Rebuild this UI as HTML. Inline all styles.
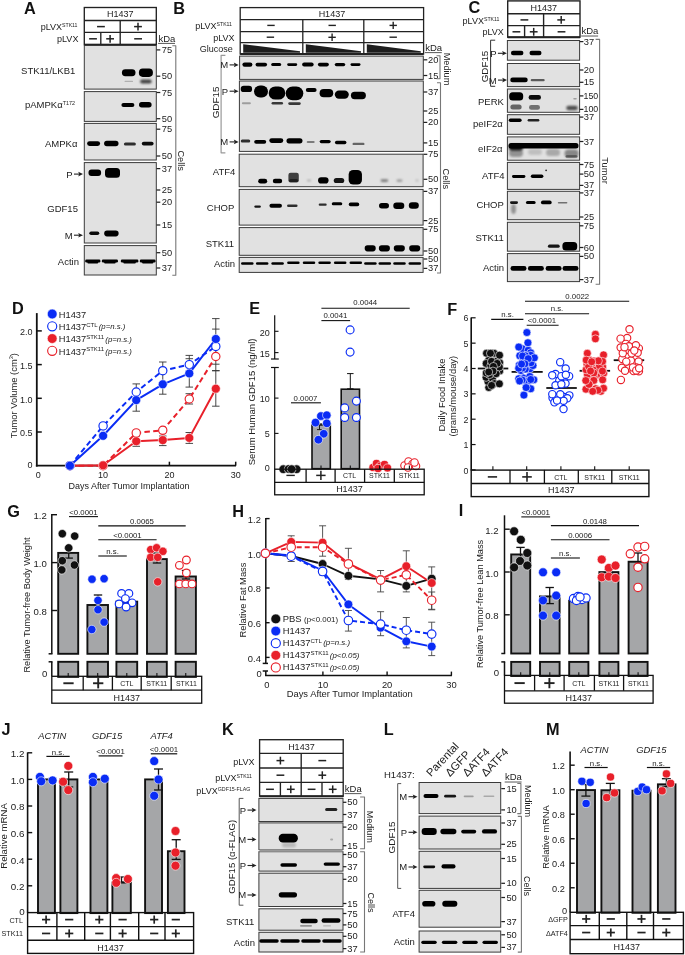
<!DOCTYPE html>
<html><head><meta charset="utf-8"><style>
html,body{margin:0;padding:0;background:#fff;}
svg{display:block;font-family:"Liberation Sans", sans-serif;will-change:transform;}
</style></head><body>
<svg width="685" height="955" viewBox="0 0 685 955">
<defs><filter id="b1" x="-50%" y="-100%" width="200%" height="300%"><feGaussianBlur stdDeviation="0.1"/></filter><filter id="b2" x="-50%" y="-100%" width="200%" height="300%"><feGaussianBlur stdDeviation="0.2"/></filter><filter id="b3" x="-50%" y="-100%" width="200%" height="300%"><feGaussianBlur stdDeviation="0.3"/></filter><filter id="b4" x="-50%" y="-100%" width="200%" height="300%"><feGaussianBlur stdDeviation="0.4"/></filter><filter id="b5" x="-50%" y="-100%" width="200%" height="300%"><feGaussianBlur stdDeviation="0.5"/></filter><filter id="b6" x="-50%" y="-100%" width="200%" height="300%"><feGaussianBlur stdDeviation="0.6"/></filter><filter id="b7" x="-50%" y="-100%" width="200%" height="300%"><feGaussianBlur stdDeviation="0.7"/></filter><filter id="b8" x="-50%" y="-100%" width="200%" height="300%"><feGaussianBlur stdDeviation="0.8"/></filter><filter id="b9" x="-50%" y="-100%" width="200%" height="300%"><feGaussianBlur stdDeviation="0.9"/></filter><filter id="b10" x="-50%" y="-100%" width="200%" height="300%"><feGaussianBlur stdDeviation="1.0"/></filter><filter id="b11" x="-50%" y="-100%" width="200%" height="300%"><feGaussianBlur stdDeviation="1.1"/></filter><filter id="b12" x="-50%" y="-100%" width="200%" height="300%"><feGaussianBlur stdDeviation="1.2"/></filter><filter id="b13" x="-50%" y="-100%" width="200%" height="300%"><feGaussianBlur stdDeviation="1.3"/></filter><filter id="b14" x="-50%" y="-100%" width="200%" height="300%"><feGaussianBlur stdDeviation="1.4"/></filter><filter id="b15" x="-50%" y="-100%" width="200%" height="300%"><feGaussianBlur stdDeviation="1.5"/></filter><filter id="b16" x="-50%" y="-100%" width="200%" height="300%"><feGaussianBlur stdDeviation="1.6"/></filter><filter id="b17" x="-50%" y="-100%" width="200%" height="300%"><feGaussianBlur stdDeviation="1.7"/></filter><filter id="b18" x="-50%" y="-100%" width="200%" height="300%"><feGaussianBlur stdDeviation="1.8"/></filter><filter id="b19" x="-50%" y="-100%" width="200%" height="300%"><feGaussianBlur stdDeviation="1.9"/></filter><filter id="b20" x="-50%" y="-100%" width="200%" height="300%"><feGaussianBlur stdDeviation="2.0"/></filter><filter id="b21" x="-50%" y="-100%" width="200%" height="300%"><feGaussianBlur stdDeviation="2.1"/></filter><filter id="b22" x="-50%" y="-100%" width="200%" height="300%"><feGaussianBlur stdDeviation="2.2"/></filter><filter id="b23" x="-50%" y="-100%" width="200%" height="300%"><feGaussianBlur stdDeviation="2.3"/></filter><filter id="b24" x="-50%" y="-100%" width="200%" height="300%"><feGaussianBlur stdDeviation="2.4"/></filter><filter id="b25" x="-50%" y="-100%" width="200%" height="300%"><feGaussianBlur stdDeviation="2.5"/></filter><filter id="b26" x="-50%" y="-100%" width="200%" height="300%"><feGaussianBlur stdDeviation="2.6"/></filter><filter id="b27" x="-50%" y="-100%" width="200%" height="300%"><feGaussianBlur stdDeviation="2.7"/></filter><filter id="b28" x="-50%" y="-100%" width="200%" height="300%"><feGaussianBlur stdDeviation="2.8"/></filter><filter id="b29" x="-50%" y="-100%" width="200%" height="300%"><feGaussianBlur stdDeviation="2.9"/></filter><filter id="b30" x="-50%" y="-100%" width="200%" height="300%"><feGaussianBlur stdDeviation="3.0"/></filter></defs>
<rect x="0" y="0" width="685" height="955" fill="#fff"/>
<text x="1.50" y="735.10" font-size="16.3" font-weight="bold" fill="#111">J</text>
<rect x="38.00" y="779.40" width="16.90" height="133.70" fill="#a5a6a8" stroke="#111" stroke-width="1.9" />
<rect x="60.40" y="779.40" width="17.00" height="133.70" fill="#a5a6a8" stroke="#111" stroke-width="1.9" />
<rect x="90.50" y="779.40" width="16.90" height="133.70" fill="#a5a6a8" stroke="#111" stroke-width="1.9" />
<rect x="112.40" y="882.61" width="18.40" height="30.49" fill="#a5a6a8" stroke="#111" stroke-width="1.9" />
<rect x="145.10" y="779.40" width="16.90" height="133.70" fill="#a5a6a8" stroke="#111" stroke-width="1.9" />
<rect x="167.90" y="851.22" width="16.60" height="61.88" fill="#a5a6a8" stroke="#111" stroke-width="1.9" />
<line x1="68.70" y1="772.00" x2="68.70" y2="787.00" stroke="#111" stroke-width="1.3" stroke-linecap="butt"/>
<line x1="64.20" y1="772.00" x2="73.20" y2="772.00" stroke="#111" stroke-width="1.3" stroke-linecap="butt"/>
<line x1="64.20" y1="787.00" x2="73.20" y2="787.00" stroke="#111" stroke-width="1.3" stroke-linecap="butt"/>
<line x1="158.50" y1="769.00" x2="158.50" y2="790.00" stroke="#111" stroke-width="1.3" stroke-linecap="butt"/>
<line x1="154.00" y1="769.00" x2="163.00" y2="769.00" stroke="#111" stroke-width="1.3" stroke-linecap="butt"/>
<line x1="154.00" y1="790.00" x2="163.00" y2="790.00" stroke="#111" stroke-width="1.3" stroke-linecap="butt"/>
<line x1="176.20" y1="839.70" x2="176.20" y2="859.40" stroke="#111" stroke-width="1.3" stroke-linecap="butt"/>
<line x1="171.70" y1="839.70" x2="180.70" y2="839.70" stroke="#111" stroke-width="1.3" stroke-linecap="butt"/>
<line x1="171.70" y1="859.40" x2="180.70" y2="859.40" stroke="#111" stroke-width="1.3" stroke-linecap="butt"/>
<line x1="121.50" y1="877.00" x2="121.50" y2="882.00" stroke="#111" stroke-width="1.3" stroke-linecap="butt"/>
<line x1="117.00" y1="877.00" x2="126.00" y2="877.00" stroke="#111" stroke-width="1.3" stroke-linecap="butt"/>
<line x1="117.00" y1="882.00" x2="126.00" y2="882.00" stroke="#111" stroke-width="1.3" stroke-linecap="butt"/>
<circle cx="39.90" cy="776.90" r="4.5" fill="#0a2cf5" stroke="#ffffff" stroke-width="0.6"/>
<circle cx="41.20" cy="781.30" r="4.5" fill="#0a2cf5" stroke="#ffffff" stroke-width="0.6"/>
<circle cx="52.60" cy="780.40" r="4.5" fill="#0a2cf5" stroke="#ffffff" stroke-width="0.6"/>
<circle cx="68.30" cy="765.90" r="4.5" fill="#e8202a" stroke="#ffffff" stroke-width="0.6"/>
<circle cx="63.10" cy="781.70" r="4.5" fill="#e8202a" stroke="#ffffff" stroke-width="0.6"/>
<circle cx="68.30" cy="790.10" r="4.5" fill="#e8202a" stroke="#ffffff" stroke-width="0.6"/>
<circle cx="92.90" cy="776.90" r="4.5" fill="#0a2cf5" stroke="#ffffff" stroke-width="0.6"/>
<circle cx="92.90" cy="782.20" r="4.5" fill="#0a2cf5" stroke="#ffffff" stroke-width="0.6"/>
<circle cx="104.80" cy="778.70" r="4.5" fill="#0a2cf5" stroke="#ffffff" stroke-width="0.6"/>
<circle cx="116.20" cy="878.10" r="4.5" fill="#e8202a" stroke="#ffffff" stroke-width="0.6"/>
<circle cx="116.20" cy="882.80" r="4.5" fill="#e8202a" stroke="#ffffff" stroke-width="0.6"/>
<circle cx="127.90" cy="879.00" r="4.5" fill="#e8202a" stroke="#ffffff" stroke-width="0.6"/>
<circle cx="154.20" cy="761.10" r="4.5" fill="#0a2cf5" stroke="#ffffff" stroke-width="0.6"/>
<circle cx="158.50" cy="779.50" r="4.5" fill="#0a2cf5" stroke="#ffffff" stroke-width="0.6"/>
<circle cx="154.20" cy="795.80" r="4.5" fill="#0a2cf5" stroke="#ffffff" stroke-width="0.6"/>
<circle cx="175.50" cy="831.00" r="4.5" fill="#e8202a" stroke="#ffffff" stroke-width="0.6"/>
<circle cx="175.50" cy="852.50" r="4.5" fill="#e8202a" stroke="#ffffff" stroke-width="0.6"/>
<circle cx="175.50" cy="865.70" r="4.5" fill="#e8202a" stroke="#ffffff" stroke-width="0.6"/>
<line x1="27.60" y1="752.40" x2="27.60" y2="912.60" stroke="#111" stroke-width="1.6" stroke-linecap="butt"/>
<line x1="27.60" y1="752.80" x2="32.20" y2="752.80" stroke="#111" stroke-width="1.4" stroke-linecap="butt"/>
<text x="24.40" y="757.13" font-size="9.8" text-anchor="end" font-weight="normal" font-style="normal" fill="#222">1.2</text>
<line x1="27.60" y1="779.40" x2="32.20" y2="779.40" stroke="#111" stroke-width="1.4" stroke-linecap="butt"/>
<text x="24.40" y="783.73" font-size="9.8" text-anchor="end" font-weight="normal" font-style="normal" fill="#222">1.0</text>
<line x1="27.60" y1="806.00" x2="32.20" y2="806.00" stroke="#111" stroke-width="1.4" stroke-linecap="butt"/>
<text x="24.40" y="810.33" font-size="9.8" text-anchor="end" font-weight="normal" font-style="normal" fill="#222">0.8</text>
<line x1="27.60" y1="832.60" x2="32.20" y2="832.60" stroke="#111" stroke-width="1.4" stroke-linecap="butt"/>
<text x="24.40" y="836.93" font-size="9.8" text-anchor="end" font-weight="normal" font-style="normal" fill="#222">0.6</text>
<line x1="27.60" y1="859.20" x2="32.20" y2="859.20" stroke="#111" stroke-width="1.4" stroke-linecap="butt"/>
<text x="24.40" y="863.53" font-size="9.8" text-anchor="end" font-weight="normal" font-style="normal" fill="#222">0.4</text>
<line x1="27.60" y1="885.80" x2="32.20" y2="885.80" stroke="#111" stroke-width="1.4" stroke-linecap="butt"/>
<text x="24.40" y="890.13" font-size="9.8" text-anchor="end" font-weight="normal" font-style="normal" fill="#222">0.2</text>
<text x="24.80" y="914.53" font-size="9.8" text-anchor="end" font-weight="normal" font-style="normal" fill="#222">0</text>
<rect x="27.60" y="912.60" width="166.00" height="40.80" fill="none" stroke="#111" stroke-width="1.4" />
<line x1="27.60" y1="926.60" x2="193.60" y2="926.60" stroke="#111" stroke-width="1.4" stroke-linecap="butt"/>
<line x1="27.60" y1="940.30" x2="193.60" y2="940.30" stroke="#111" stroke-width="1.4" stroke-linecap="butt"/>
<line x1="56.90" y1="912.60" x2="56.90" y2="940.30" stroke="#111" stroke-width="1.4" stroke-linecap="butt"/>
<line x1="84.70" y1="912.60" x2="84.70" y2="940.30" stroke="#111" stroke-width="1.4" stroke-linecap="butt"/>
<line x1="110.40" y1="912.60" x2="110.40" y2="940.30" stroke="#111" stroke-width="1.4" stroke-linecap="butt"/>
<line x1="138.70" y1="912.60" x2="138.70" y2="940.30" stroke="#111" stroke-width="1.4" stroke-linecap="butt"/>
<line x1="165.00" y1="912.60" x2="165.00" y2="940.30" stroke="#111" stroke-width="1.4" stroke-linecap="butt"/>
<line x1="42.00" y1="919.60" x2="50.20" y2="919.60" stroke="#222" stroke-width="1.7" stroke-linecap="butt"/>
<line x1="46.10" y1="915.50" x2="46.10" y2="923.70" stroke="#222" stroke-width="1.7" stroke-linecap="butt"/>
<line x1="42.00" y1="933.45" x2="50.20" y2="933.45" stroke="#222" stroke-width="1.7" stroke-linecap="butt"/>
<line x1="65.10" y1="919.60" x2="73.30" y2="919.60" stroke="#222" stroke-width="1.7" stroke-linecap="butt"/>
<line x1="65.10" y1="933.45" x2="73.30" y2="933.45" stroke="#222" stroke-width="1.7" stroke-linecap="butt"/>
<line x1="69.20" y1="929.35" x2="69.20" y2="937.55" stroke="#222" stroke-width="1.7" stroke-linecap="butt"/>
<line x1="95.20" y1="919.60" x2="103.40" y2="919.60" stroke="#222" stroke-width="1.7" stroke-linecap="butt"/>
<line x1="99.30" y1="915.50" x2="99.30" y2="923.70" stroke="#222" stroke-width="1.7" stroke-linecap="butt"/>
<line x1="95.20" y1="933.45" x2="103.40" y2="933.45" stroke="#222" stroke-width="1.7" stroke-linecap="butt"/>
<line x1="118.50" y1="919.60" x2="126.70" y2="919.60" stroke="#222" stroke-width="1.7" stroke-linecap="butt"/>
<line x1="118.50" y1="933.45" x2="126.70" y2="933.45" stroke="#222" stroke-width="1.7" stroke-linecap="butt"/>
<line x1="122.60" y1="929.35" x2="122.60" y2="937.55" stroke="#222" stroke-width="1.7" stroke-linecap="butt"/>
<line x1="150.10" y1="919.60" x2="158.30" y2="919.60" stroke="#222" stroke-width="1.7" stroke-linecap="butt"/>
<line x1="154.20" y1="915.50" x2="154.20" y2="923.70" stroke="#222" stroke-width="1.7" stroke-linecap="butt"/>
<line x1="150.10" y1="933.45" x2="158.30" y2="933.45" stroke="#222" stroke-width="1.7" stroke-linecap="butt"/>
<line x1="171.70" y1="919.60" x2="179.90" y2="919.60" stroke="#222" stroke-width="1.7" stroke-linecap="butt"/>
<line x1="171.70" y1="933.45" x2="179.90" y2="933.45" stroke="#222" stroke-width="1.7" stroke-linecap="butt"/>
<line x1="175.80" y1="929.35" x2="175.80" y2="937.55" stroke="#222" stroke-width="1.7" stroke-linecap="butt"/>
<text x="23.00" y="922.59" font-size="7.2" text-anchor="end" font-weight="normal" font-style="normal" fill="#222">CTL</text>
<text x="23.00" y="936.44" font-size="7.2" text-anchor="end" font-weight="normal" font-style="normal" fill="#222">STK11</text>
<text x="110.60" y="950.69" font-size="9" text-anchor="middle" font-weight="normal" font-style="normal" fill="#222">H1437</text>
<line x1="46.40" y1="756.40" x2="69.70" y2="756.40" stroke="#111" stroke-width="1.2" stroke-linecap="butt"/>
<text x="58.05" y="754.61" font-size="7.8" text-anchor="middle" font-weight="normal" font-style="normal" fill="#222">n.s.</text>
<line x1="98.60" y1="755.90" x2="122.50" y2="755.90" stroke="#111" stroke-width="1.2" stroke-linecap="butt"/>
<text x="110.55" y="754.11" font-size="7.8" text-anchor="middle" font-weight="normal" font-style="normal" fill="#222">&lt;0.0001</text>
<line x1="150.80" y1="753.80" x2="177.20" y2="753.80" stroke="#111" stroke-width="1.2" stroke-linecap="butt"/>
<text x="164.00" y="752.01" font-size="7.8" text-anchor="middle" font-weight="normal" font-style="normal" fill="#222">&lt;0.0001</text>
<text x="52.20" y="738.78" font-size="9.4" text-anchor="middle" font-weight="normal" font-style="italic" fill="#222">ACTIN</text>
<text x="107.00" y="738.78" font-size="9.4" text-anchor="middle" font-weight="normal" font-style="italic" fill="#222">GDF15</text>
<text x="161.70" y="738.78" font-size="9.4" text-anchor="middle" font-weight="normal" font-style="italic" fill="#222">ATF4</text>
<text x="4.00" y="839.46" font-size="9.6" text-anchor="middle" font-weight="normal" font-style="normal" fill="#222" transform="rotate(-90 4.00 836.00)">Relative mRNA</text>
<text x="222.00" y="735.20" font-size="16.3" font-weight="bold" fill="#111">K</text>
<rect x="259.60" y="739.70" width="83.60" height="56.50" fill="#fff" stroke="#222" stroke-width="1.35" />
<line x1="259.60" y1="753.30" x2="343.20" y2="753.30" stroke="#222" stroke-width="1.35" stroke-linecap="butt"/>
<line x1="259.60" y1="768.00" x2="343.20" y2="768.00" stroke="#222" stroke-width="1.35" stroke-linecap="butt"/>
<line x1="259.60" y1="782.40" x2="343.20" y2="782.40" stroke="#222" stroke-width="1.35" stroke-linecap="butt"/>
<line x1="259.60" y1="796.20" x2="343.20" y2="796.20" stroke="#222" stroke-width="1.9" stroke-linecap="butt"/>
<line x1="301.20" y1="753.30" x2="301.20" y2="796.20" stroke="#222" stroke-width="1.35" stroke-linecap="butt"/>
<line x1="280.40" y1="782.40" x2="280.40" y2="796.20" stroke="#222" stroke-width="1.35" stroke-linecap="butt"/>
<line x1="322.00" y1="782.40" x2="322.00" y2="796.20" stroke="#222" stroke-width="1.35" stroke-linecap="butt"/>
<text x="301.40" y="749.74" font-size="9" text-anchor="middle" font-weight="normal" font-style="normal" fill="#222">H1437</text>
<line x1="276.50" y1="760.60" x2="284.30" y2="760.60" stroke="#222" stroke-width="1.5" stroke-linecap="butt"/>
<line x1="280.40" y1="756.70" x2="280.40" y2="764.50" stroke="#222" stroke-width="1.5" stroke-linecap="butt"/>
<line x1="318.40" y1="760.60" x2="326.20" y2="760.60" stroke="#222" stroke-width="1.5" stroke-linecap="butt"/>
<line x1="276.50" y1="775.20" x2="284.30" y2="775.20" stroke="#222" stroke-width="1.5" stroke-linecap="butt"/>
<line x1="318.40" y1="775.20" x2="326.20" y2="775.20" stroke="#222" stroke-width="1.5" stroke-linecap="butt"/>
<line x1="322.30" y1="771.30" x2="322.30" y2="779.10" stroke="#222" stroke-width="1.5" stroke-linecap="butt"/>
<line x1="266.10" y1="789.30" x2="273.90" y2="789.30" stroke="#222" stroke-width="1.5" stroke-linecap="butt"/>
<line x1="286.90" y1="789.30" x2="294.70" y2="789.30" stroke="#222" stroke-width="1.5" stroke-linecap="butt"/>
<line x1="290.80" y1="785.40" x2="290.80" y2="793.20" stroke="#222" stroke-width="1.5" stroke-linecap="butt"/>
<line x1="307.70" y1="789.30" x2="315.50" y2="789.30" stroke="#222" stroke-width="1.5" stroke-linecap="butt"/>
<line x1="328.80" y1="789.30" x2="336.60" y2="789.30" stroke="#222" stroke-width="1.5" stroke-linecap="butt"/>
<line x1="332.70" y1="785.40" x2="332.70" y2="793.20" stroke="#222" stroke-width="1.5" stroke-linecap="butt"/>
<text x="254.60" y="765.44" font-size="9" text-anchor="end" font-weight="normal" font-style="normal" fill="#222">pLVX</text>
<text x="252.00" y="780.84" font-size="9" text-anchor="end" font-style="normal" fill="#222">pLVX<tspan dy="-3.24" font-size="5.2">STK11</tspan></text>
<text x="250.40" y="794.44" font-size="9" text-anchor="end" font-style="normal" fill="#222">pLVX<tspan dy="-3.24" font-size="5.3">GDF15-FLAG</tspan></text>
<text x="344.80" y="792.02" font-size="9.5" text-anchor="start" font-weight="normal" font-style="normal" fill="#222">kDa</text>
<line x1="344.50" y1="793.62" x2="361.40" y2="793.62" stroke="#444" stroke-width="0.9" stroke-linecap="butt"/>
<rect x="258.90" y="798.40" width="84.10" height="23.10" fill="#e1e1e1" stroke="#3a3a3a" stroke-width="1.0" />
<rect x="258.90" y="822.90" width="84.10" height="26.70" fill="#e1e1e1" stroke="#3a3a3a" stroke-width="1.0" />
<rect x="258.90" y="851.70" width="84.10" height="19.40" fill="#e1e1e1" stroke="#3a3a3a" stroke-width="1.0" />
<rect x="258.90" y="873.20" width="84.10" height="33.30" fill="#e1e1e1" stroke="#3a3a3a" stroke-width="1.0" />
<rect x="258.90" y="908.80" width="84.10" height="21.40" fill="#e1e1e1" stroke="#3a3a3a" stroke-width="1.0" />
<rect x="258.90" y="932.30" width="84.10" height="19.70" fill="#e1e1e1" stroke="#3a3a3a" stroke-width="1.0" />
<rect x="259.40" y="849.20" width="83.20" height="2.60" fill="#9a9a9a" stroke="none" stroke-width="0" />
<rect x="325.10" y="808.10" width="12.20" height="3.00" rx="1.50" fill="#000" fill-opacity="0.85" filter="url(#b6)"/>
<rect x="278.70" y="833.80" width="19.20" height="8.80" rx="4.20" fill="#000" fill-opacity="1" filter="url(#b6)"/>
<rect x="282.00" y="842.50" width="14.00" height="5.00" rx="2.50" fill="#000" fill-opacity="0.18" filter="url(#b10)"/>
<rect x="330.10" y="838.60" width="3.00" height="2.00" rx="1.00" fill="#000" fill-opacity="0.25" filter="url(#b5)"/>
<rect x="280.40" y="863.30" width="16.60" height="3.40" rx="1.70" fill="#000" fill-opacity="1" filter="url(#b5)"/>
<rect x="323.65" y="862.40" width="16.30" height="3.40" rx="1.70" fill="#000" fill-opacity="1" filter="url(#b5)"/>
<rect x="278.75" y="892.20" width="18.30" height="5.20" rx="2.60" fill="#000" fill-opacity="1" filter="url(#b5)"/>
<rect x="300.25" y="918.70" width="17.50" height="4.60" rx="2.30" fill="#000" fill-opacity="1" filter="url(#b5)"/>
<rect x="321.55" y="918.30" width="18.90" height="4.40" rx="2.20" fill="#000" fill-opacity="1" filter="url(#b5)"/>
<rect x="300.00" y="924.90" width="12.00" height="1.80" rx="0.90" fill="#000" fill-opacity="0.35" filter="url(#b6)"/>
<rect x="323.00" y="925.20" width="8.00" height="1.20" rx="0.60" fill="#000" fill-opacity="0.2" filter="url(#b6)"/>
<rect x="259.25" y="939.30" width="19.50" height="3.40" rx="1.70" fill="#000" fill-opacity="1" filter="url(#b5)"/>
<rect x="280.25" y="939.30" width="19.50" height="3.40" rx="1.70" fill="#000" fill-opacity="1" filter="url(#b5)"/>
<rect x="301.25" y="939.30" width="19.50" height="3.40" rx="1.70" fill="#000" fill-opacity="1" filter="url(#b5)"/>
<rect x="322.25" y="939.30" width="19.50" height="3.40" rx="1.70" fill="#000" fill-opacity="1" filter="url(#b5)"/>
<line x1="343.00" y1="802.30" x2="346.40" y2="802.30" stroke="#222" stroke-width="1.25" stroke-linecap="butt"/>
<text x="347.30" y="805.30" font-size="9.3" text-anchor="start" font-weight="normal" font-style="normal" fill="#222">50</text>
<line x1="343.00" y1="814.50" x2="346.40" y2="814.50" stroke="#222" stroke-width="1.25" stroke-linecap="butt"/>
<text x="347.30" y="817.50" font-size="9.3" text-anchor="start" font-weight="normal" font-style="normal" fill="#222">37</text>
<line x1="343.00" y1="827.10" x2="346.40" y2="827.10" stroke="#222" stroke-width="1.25" stroke-linecap="butt"/>
<text x="347.30" y="830.10" font-size="9.3" text-anchor="start" font-weight="normal" font-style="normal" fill="#222">20</text>
<line x1="343.00" y1="845.70" x2="346.40" y2="845.70" stroke="#222" stroke-width="1.25" stroke-linecap="butt"/>
<text x="347.30" y="848.70" font-size="9.3" text-anchor="start" font-weight="normal" font-style="normal" fill="#222">15</text>
<line x1="343.00" y1="854.50" x2="346.40" y2="854.50" stroke="#222" stroke-width="1.25" stroke-linecap="butt"/>
<text x="347.30" y="857.50" font-size="9.3" text-anchor="start" font-weight="normal" font-style="normal" fill="#222">50</text>
<line x1="343.00" y1="866.70" x2="346.40" y2="866.70" stroke="#222" stroke-width="1.25" stroke-linecap="butt"/>
<text x="347.30" y="869.70" font-size="9.3" text-anchor="start" font-weight="normal" font-style="normal" fill="#222">37</text>
<line x1="343.00" y1="879.30" x2="346.40" y2="879.30" stroke="#222" stroke-width="1.25" stroke-linecap="butt"/>
<text x="347.30" y="882.30" font-size="9.3" text-anchor="start" font-weight="normal" font-style="normal" fill="#222">20</text>
<line x1="343.00" y1="903.50" x2="346.40" y2="903.50" stroke="#222" stroke-width="1.25" stroke-linecap="butt"/>
<text x="347.30" y="906.50" font-size="9.3" text-anchor="start" font-weight="normal" font-style="normal" fill="#222">15</text>
<line x1="343.00" y1="913.50" x2="346.40" y2="913.50" stroke="#222" stroke-width="1.25" stroke-linecap="butt"/>
<text x="347.30" y="916.50" font-size="9.3" text-anchor="start" font-weight="normal" font-style="normal" fill="#222">75</text>
<line x1="343.00" y1="924.90" x2="346.40" y2="924.90" stroke="#222" stroke-width="1.25" stroke-linecap="butt"/>
<text x="347.30" y="927.90" font-size="9.3" text-anchor="start" font-weight="normal" font-style="normal" fill="#222">50</text>
<line x1="343.00" y1="936.30" x2="346.40" y2="936.30" stroke="#222" stroke-width="1.25" stroke-linecap="butt"/>
<text x="347.30" y="939.30" font-size="9.3" text-anchor="start" font-weight="normal" font-style="normal" fill="#222">50</text>
<line x1="343.00" y1="948.60" x2="346.40" y2="948.60" stroke="#222" stroke-width="1.25" stroke-linecap="butt"/>
<text x="347.30" y="951.60" font-size="9.3" text-anchor="start" font-weight="normal" font-style="normal" fill="#222">37</text>
<polyline points="360.10,797.00 364.50,797.00 364.50,848.70 360.10,848.70" fill="none" stroke="#777" stroke-width="1.1" stroke-linejoin="round"/>
<text x="370.60" y="830.04" font-size="9" text-anchor="middle" font-weight="normal" font-style="normal" fill="#222" transform="rotate(90 370.60 826.80)">Medium</text>
<polyline points="360.10,851.70 364.50,851.70 364.50,952.00 360.10,952.00" fill="none" stroke="#777" stroke-width="1.1" stroke-linejoin="round"/>
<text x="371.20" y="905.74" font-size="9" text-anchor="middle" font-weight="normal" font-style="normal" fill="#222" transform="rotate(90 371.20 902.50)">Cells</text>
<polyline points="243.40,798.40 239.20,798.40 239.20,905.20 243.40,905.20" fill="none" stroke="#555" stroke-width="1.0" stroke-linejoin="round"/>
<text x="231.40" y="860.26" font-size="9.6" text-anchor="middle" font-weight="normal" font-style="normal" fill="#222" transform="rotate(-90 231.40 856.80)">GDF15 (α-FLAG)</text>
<line x1="247.50" y1="810.10" x2="253.50" y2="810.10" stroke="#222" stroke-width="1.1" stroke-linecap="butt"/>
<polygon points="256.50,810.10 251.70,807.80 252.70,810.10 251.70,812.40" fill="#222" stroke="none" stroke-width="0"/>
<text x="246.10" y="813.52" font-size="9.5" text-anchor="end" font-weight="normal" font-style="normal" fill="#222">P</text>
<line x1="247.50" y1="839.40" x2="253.50" y2="839.40" stroke="#222" stroke-width="1.1" stroke-linecap="butt"/>
<polygon points="256.50,839.40 251.70,837.10 252.70,839.40 251.70,841.70" fill="#222" stroke="none" stroke-width="0"/>
<text x="246.10" y="842.82" font-size="9.5" text-anchor="end" font-weight="normal" font-style="normal" fill="#222">M</text>
<line x1="247.50" y1="865.50" x2="253.50" y2="865.50" stroke="#222" stroke-width="1.1" stroke-linecap="butt"/>
<polygon points="256.50,865.50 251.70,863.20 252.70,865.50 251.70,867.80" fill="#222" stroke="none" stroke-width="0"/>
<text x="246.10" y="868.92" font-size="9.5" text-anchor="end" font-weight="normal" font-style="normal" fill="#222">P</text>
<line x1="247.50" y1="895.00" x2="253.50" y2="895.00" stroke="#222" stroke-width="1.1" stroke-linecap="butt"/>
<polygon points="256.50,895.00 251.70,892.70 252.70,895.00 251.70,897.30" fill="#222" stroke="none" stroke-width="0"/>
<text x="246.10" y="898.42" font-size="9.5" text-anchor="end" font-weight="normal" font-style="normal" fill="#222">M</text>
<text x="226.00" y="925.32" font-size="9.5" text-anchor="start" font-weight="normal" font-style="normal" fill="#222">STK11</text>
<text x="233.80" y="946.12" font-size="9.5" text-anchor="start" font-weight="normal" font-style="normal" fill="#222">Actin</text>
<text x="383.70" y="735.00" font-size="16.3" font-weight="bold" fill="#111">L</text>
<text x="384.00" y="778.22" font-size="9.5" text-anchor="start" font-weight="normal" font-style="normal" fill="#222">H1437:</text>
<text x="431.0" y="777.3" font-size="11.2" fill="#222" transform="rotate(-46.7 431.0 777.3)">Parental</text>
<text x="450.0" y="777.3" font-size="11.2" fill="#222" transform="rotate(-46.7 450.0 777.3)">ΔGFP</text>
<text x="467.3" y="777.3" font-size="11.2" fill="#222" transform="rotate(-46.7 467.3 777.3)">ΔATF4</text>
<text x="485.8" y="777.3" font-size="11.2" fill="#222" transform="rotate(-46.7 485.8 777.3)">ΔATF4</text>
<text x="505.00" y="780.42" font-size="9.5" text-anchor="start" font-weight="normal" font-style="normal" fill="#222">kDa</text>
<line x1="504.70" y1="782.02" x2="521.60" y2="782.02" stroke="#444" stroke-width="0.9" stroke-linecap="butt"/>
<rect x="419.10" y="782.50" width="81.60" height="31.10" fill="#e1e1e1" stroke="#3a3a3a" stroke-width="1.0" />
<rect x="419.10" y="816.10" width="81.60" height="32.90" fill="#e1e1e1" stroke="#3a3a3a" stroke-width="1.0" />
<rect x="419.10" y="851.30" width="81.60" height="37.10" fill="#e1e1e1" stroke="#3a3a3a" stroke-width="1.0" />
<rect x="419.10" y="890.30" width="81.60" height="36.90" fill="#e1e1e1" stroke="#3a3a3a" stroke-width="1.0" />
<rect x="419.10" y="931.00" width="81.60" height="21.10" fill="#e1e1e1" stroke="#3a3a3a" stroke-width="1.0" />
<rect x="423.50" y="794.10" width="15.00" height="4.00" rx="2.00" fill="#000" fill-opacity="1" filter="url(#b5)"/>
<rect x="444.15" y="794.80" width="11.90" height="2.80" rx="1.40" fill="#000" fill-opacity="0.9" filter="url(#b5)"/>
<rect x="463.70" y="795.60" width="10.00" height="1.60" rx="0.80" fill="#000" fill-opacity="0.3" filter="url(#b6)"/>
<rect x="483.40" y="795.40" width="11.00" height="1.60" rx="0.80" fill="#000" fill-opacity="0.25" filter="url(#b6)"/>
<rect x="421.65" y="828.00" width="15.10" height="7.00" rx="3.20" fill="#000" fill-opacity="1" filter="url(#b6)"/>
<rect x="440.40" y="828.80" width="16.00" height="5.40" rx="2.70" fill="#000" fill-opacity="1" filter="url(#b5)"/>
<rect x="461.20" y="829.70" width="15.00" height="3.80" rx="1.90" fill="#000" fill-opacity="1" filter="url(#b5)"/>
<rect x="481.95" y="829.20" width="15.10" height="4.40" rx="2.20" fill="#000" fill-opacity="1" filter="url(#b5)"/>
<rect x="423.20" y="865.40" width="12.00" height="2.80" rx="1.40" fill="#000" fill-opacity="0.95" filter="url(#b5)"/>
<rect x="441.45" y="864.30" width="14.10" height="4.20" rx="2.10" fill="#000" fill-opacity="1" filter="url(#b5)"/>
<rect x="422.20" y="900.90" width="13.20" height="5.60" rx="2.80" fill="#000" fill-opacity="1" filter="url(#b5)"/>
<rect x="442.25" y="900.80" width="15.10" height="6.00" rx="3.00" fill="#000" fill-opacity="1" filter="url(#b5)"/>
<rect x="421.25" y="940.70" width="15.50" height="3.20" rx="1.60" fill="#000" fill-opacity="1" filter="url(#b5)"/>
<rect x="441.85" y="940.70" width="15.50" height="3.20" rx="1.60" fill="#000" fill-opacity="1" filter="url(#b5)"/>
<rect x="462.25" y="940.70" width="15.50" height="3.20" rx="1.60" fill="#000" fill-opacity="1" filter="url(#b5)"/>
<rect x="482.45" y="940.70" width="15.50" height="3.20" rx="1.60" fill="#000" fill-opacity="1" filter="url(#b5)"/>
<line x1="501.30" y1="788.60" x2="505.00" y2="788.60" stroke="#222" stroke-width="1.25" stroke-linecap="butt"/>
<text x="506.40" y="791.60" font-size="9.3" text-anchor="start" font-weight="normal" font-style="normal" fill="#222">15</text>
<line x1="501.30" y1="809.90" x2="505.00" y2="809.90" stroke="#222" stroke-width="1.25" stroke-linecap="butt"/>
<text x="506.40" y="812.90" font-size="9.3" text-anchor="start" font-weight="normal" font-style="normal" fill="#222">10</text>
<line x1="501.30" y1="823.00" x2="505.00" y2="823.00" stroke="#222" stroke-width="1.25" stroke-linecap="butt"/>
<text x="506.40" y="826.00" font-size="9.3" text-anchor="start" font-weight="normal" font-style="normal" fill="#222">37</text>
<line x1="501.30" y1="844.30" x2="505.00" y2="844.30" stroke="#222" stroke-width="1.25" stroke-linecap="butt"/>
<text x="506.40" y="847.30" font-size="9.3" text-anchor="start" font-weight="normal" font-style="normal" fill="#222">25</text>
<line x1="501.30" y1="858.50" x2="505.00" y2="858.50" stroke="#222" stroke-width="1.25" stroke-linecap="butt"/>
<text x="506.40" y="861.50" font-size="9.3" text-anchor="start" font-weight="normal" font-style="normal" fill="#222">15</text>
<line x1="501.30" y1="883.30" x2="505.00" y2="883.30" stroke="#222" stroke-width="1.25" stroke-linecap="butt"/>
<text x="506.40" y="886.30" font-size="9.3" text-anchor="start" font-weight="normal" font-style="normal" fill="#222">10</text>
<line x1="501.30" y1="897.50" x2="505.00" y2="897.50" stroke="#222" stroke-width="1.25" stroke-linecap="butt"/>
<text x="506.40" y="900.50" font-size="9.3" text-anchor="start" font-weight="normal" font-style="normal" fill="#222">50</text>
<line x1="501.30" y1="921.60" x2="505.00" y2="921.60" stroke="#222" stroke-width="1.25" stroke-linecap="butt"/>
<text x="506.40" y="924.60" font-size="9.3" text-anchor="start" font-weight="normal" font-style="normal" fill="#222">37</text>
<line x1="501.30" y1="934.80" x2="505.00" y2="934.80" stroke="#222" stroke-width="1.25" stroke-linecap="butt"/>
<text x="506.40" y="937.80" font-size="9.3" text-anchor="start" font-weight="normal" font-style="normal" fill="#222">50</text>
<line x1="501.30" y1="947.40" x2="505.00" y2="947.40" stroke="#222" stroke-width="1.25" stroke-linecap="butt"/>
<text x="506.40" y="950.40" font-size="9.3" text-anchor="start" font-weight="normal" font-style="normal" fill="#222">37</text>
<polyline points="517.30,783.50 520.90,783.50 520.90,813.60 517.30,813.60" fill="none" stroke="#777" stroke-width="1.1" stroke-linejoin="round"/>
<text x="528.00" y="804.24" font-size="9" text-anchor="middle" font-weight="normal" font-style="normal" fill="#222" transform="rotate(90 528.00 801.00)">Medium</text>
<polyline points="517.80,816.40 521.40,816.40 521.40,952.10 517.80,952.10" fill="none" stroke="#777" stroke-width="1.1" stroke-linejoin="round"/>
<text x="527.70" y="889.24" font-size="9" text-anchor="middle" font-weight="normal" font-style="normal" fill="#222" transform="rotate(90 527.70 886.00)">Cells</text>
<polyline points="401.20,783.60 397.70,783.60 397.70,888.40 401.20,888.40" fill="none" stroke="#555" stroke-width="1.0" stroke-linejoin="round"/>
<text x="391.50" y="841.06" font-size="9.9" text-anchor="middle" font-weight="normal" font-style="normal" fill="#222" transform="rotate(-90 391.50 837.50)">GDF15</text>
<line x1="408.50" y1="796.70" x2="414.50" y2="796.70" stroke="#222" stroke-width="1.1" stroke-linecap="butt"/>
<polygon points="417.50,796.70 412.70,794.40 413.70,796.70 412.70,799.00" fill="#222" stroke="none" stroke-width="0"/>
<text x="407.10" y="800.12" font-size="9.5" text-anchor="end" font-weight="normal" font-style="normal" fill="#222">M</text>
<line x1="408.50" y1="832.30" x2="414.50" y2="832.30" stroke="#222" stroke-width="1.1" stroke-linecap="butt"/>
<polygon points="417.50,832.30 412.70,830.00 413.70,832.30 412.70,834.60" fill="#222" stroke="none" stroke-width="0"/>
<text x="407.10" y="835.72" font-size="9.5" text-anchor="end" font-weight="normal" font-style="normal" fill="#222">P</text>
<line x1="408.50" y1="867.00" x2="414.50" y2="867.00" stroke="#222" stroke-width="1.1" stroke-linecap="butt"/>
<polygon points="417.50,867.00 412.70,864.70 413.70,867.00 412.70,869.30" fill="#222" stroke="none" stroke-width="0"/>
<text x="407.10" y="870.42" font-size="9.5" text-anchor="end" font-weight="normal" font-style="normal" fill="#222">M</text>
<text x="392.40" y="916.72" font-size="9.5" text-anchor="start" font-weight="normal" font-style="normal" fill="#222">ATF4</text>
<text x="393.70" y="945.22" font-size="9.5" text-anchor="start" font-weight="normal" font-style="normal" fill="#222">Actin</text>
<text x="546.00" y="735.20" font-size="16.3" font-weight="bold" fill="#111">M</text>
<rect x="577.00" y="790.07" width="18.00" height="122.73" fill="#a5a6a8" stroke="#111" stroke-width="1.9" />
<rect x="601.40" y="790.25" width="18.00" height="122.55" fill="#a5a6a8" stroke="#111" stroke-width="1.9" />
<rect x="632.50" y="790.68" width="18.00" height="122.12" fill="#a5a6a8" stroke="#111" stroke-width="1.9" />
<rect x="657.90" y="784.34" width="17.60" height="128.46" fill="#a5a6a8" stroke="#111" stroke-width="1.9" />
<line x1="585.90" y1="784.50" x2="585.90" y2="796.10" stroke="#111" stroke-width="1.3" stroke-linecap="butt"/>
<line x1="581.40" y1="784.50" x2="590.40" y2="784.50" stroke="#111" stroke-width="1.3" stroke-linecap="butt"/>
<line x1="581.40" y1="796.10" x2="590.40" y2="796.10" stroke="#111" stroke-width="1.3" stroke-linecap="butt"/>
<line x1="610.30" y1="783.40" x2="610.30" y2="795.00" stroke="#111" stroke-width="1.3" stroke-linecap="butt"/>
<line x1="605.80" y1="783.40" x2="614.80" y2="783.40" stroke="#111" stroke-width="1.3" stroke-linecap="butt"/>
<line x1="605.80" y1="795.00" x2="614.80" y2="795.00" stroke="#111" stroke-width="1.3" stroke-linecap="butt"/>
<line x1="641.50" y1="788.00" x2="641.50" y2="791.50" stroke="#111" stroke-width="1.3" stroke-linecap="butt"/>
<line x1="637.00" y1="788.00" x2="646.00" y2="788.00" stroke="#111" stroke-width="1.3" stroke-linecap="butt"/>
<line x1="637.00" y1="791.50" x2="646.00" y2="791.50" stroke="#111" stroke-width="1.3" stroke-linecap="butt"/>
<line x1="666.40" y1="778.70" x2="666.40" y2="786.60" stroke="#111" stroke-width="1.3" stroke-linecap="butt"/>
<line x1="661.90" y1="778.70" x2="670.90" y2="778.70" stroke="#111" stroke-width="1.3" stroke-linecap="butt"/>
<line x1="661.90" y1="786.60" x2="670.90" y2="786.60" stroke="#111" stroke-width="1.3" stroke-linecap="butt"/>
<circle cx="581.90" cy="781.30" r="4.1" fill="#0a2cf5" stroke="#ffffff" stroke-width="0.6"/>
<circle cx="590.20" cy="782.30" r="4.1" fill="#0a2cf5" stroke="#ffffff" stroke-width="0.6"/>
<circle cx="586.10" cy="803.50" r="4.1" fill="#0a2cf5" stroke="#ffffff" stroke-width="0.6"/>
<circle cx="610.50" cy="777.00" r="4.1" fill="#e8202a" stroke="#ffffff" stroke-width="0.6"/>
<circle cx="606.70" cy="797.60" r="4.1" fill="#e8202a" stroke="#ffffff" stroke-width="0.6"/>
<circle cx="614.50" cy="792.90" r="4.1" fill="#e8202a" stroke="#ffffff" stroke-width="0.6"/>
<circle cx="637.80" cy="791.40" r="4.1" fill="#0a2cf5" stroke="#ffffff" stroke-width="0.6"/>
<circle cx="642.20" cy="787.00" r="4.1" fill="#0a2cf5" stroke="#ffffff" stroke-width="0.6"/>
<circle cx="646.50" cy="789.70" r="4.1" fill="#0a2cf5" stroke="#ffffff" stroke-width="0.6"/>
<circle cx="666.40" cy="773.90" r="4.1" fill="#e8202a" stroke="#ffffff" stroke-width="0.6"/>
<circle cx="670.60" cy="783.40" r="4.1" fill="#e8202a" stroke="#ffffff" stroke-width="0.6"/>
<circle cx="662.10" cy="790.80" r="4.1" fill="#e8202a" stroke="#ffffff" stroke-width="0.6"/>
<line x1="570.10" y1="751.60" x2="570.10" y2="912.30" stroke="#111" stroke-width="1.6" stroke-linecap="butt"/>
<line x1="570.10" y1="765.18" x2="574.70" y2="765.18" stroke="#111" stroke-width="1.4" stroke-linecap="butt"/>
<text x="564.80" y="769.29" font-size="9.2" text-anchor="end" font-weight="normal" font-style="normal" fill="#222">1.2</text>
<line x1="570.10" y1="789.70" x2="574.70" y2="789.70" stroke="#111" stroke-width="1.4" stroke-linecap="butt"/>
<text x="564.80" y="793.81" font-size="9.2" text-anchor="end" font-weight="normal" font-style="normal" fill="#222">1.0</text>
<line x1="570.10" y1="814.22" x2="574.70" y2="814.22" stroke="#111" stroke-width="1.4" stroke-linecap="butt"/>
<text x="564.80" y="818.33" font-size="9.2" text-anchor="end" font-weight="normal" font-style="normal" fill="#222">0.8</text>
<line x1="570.10" y1="838.74" x2="574.70" y2="838.74" stroke="#111" stroke-width="1.4" stroke-linecap="butt"/>
<text x="564.80" y="842.85" font-size="9.2" text-anchor="end" font-weight="normal" font-style="normal" fill="#222">0.6</text>
<line x1="570.10" y1="863.26" x2="574.70" y2="863.26" stroke="#111" stroke-width="1.4" stroke-linecap="butt"/>
<text x="564.80" y="867.37" font-size="9.2" text-anchor="end" font-weight="normal" font-style="normal" fill="#222">0.4</text>
<line x1="570.10" y1="887.78" x2="574.70" y2="887.78" stroke="#111" stroke-width="1.4" stroke-linecap="butt"/>
<text x="564.80" y="891.89" font-size="9.2" text-anchor="end" font-weight="normal" font-style="normal" fill="#222">0.2</text>
<text x="567.20" y="914.01" font-size="9.2" text-anchor="end" font-weight="normal" font-style="normal" fill="#222">0</text>
<rect x="570.10" y="912.30" width="113.30" height="41.40" fill="none" stroke="#111" stroke-width="1.4" />
<line x1="570.10" y1="925.60" x2="683.40" y2="925.60" stroke="#111" stroke-width="1.4" stroke-linecap="butt"/>
<line x1="570.10" y1="939.50" x2="683.40" y2="939.50" stroke="#111" stroke-width="1.4" stroke-linecap="butt"/>
<line x1="599.30" y1="912.30" x2="599.30" y2="939.50" stroke="#111" stroke-width="1.4" stroke-linecap="butt"/>
<line x1="626.80" y1="912.30" x2="626.80" y2="939.50" stroke="#111" stroke-width="1.4" stroke-linecap="butt"/>
<line x1="653.50" y1="912.30" x2="653.50" y2="939.50" stroke="#111" stroke-width="1.4" stroke-linecap="butt"/>
<line x1="582.10" y1="918.95" x2="590.30" y2="918.95" stroke="#222" stroke-width="1.7" stroke-linecap="butt"/>
<line x1="586.20" y1="914.85" x2="586.20" y2="923.05" stroke="#222" stroke-width="1.7" stroke-linecap="butt"/>
<line x1="582.10" y1="932.55" x2="590.30" y2="932.55" stroke="#222" stroke-width="1.7" stroke-linecap="butt"/>
<line x1="606.70" y1="918.95" x2="614.90" y2="918.95" stroke="#222" stroke-width="1.7" stroke-linecap="butt"/>
<line x1="606.70" y1="932.55" x2="614.90" y2="932.55" stroke="#222" stroke-width="1.7" stroke-linecap="butt"/>
<line x1="610.80" y1="928.45" x2="610.80" y2="936.65" stroke="#222" stroke-width="1.7" stroke-linecap="butt"/>
<line x1="637.40" y1="918.95" x2="645.60" y2="918.95" stroke="#222" stroke-width="1.7" stroke-linecap="butt"/>
<line x1="641.50" y1="914.85" x2="641.50" y2="923.05" stroke="#222" stroke-width="1.7" stroke-linecap="butt"/>
<line x1="637.40" y1="932.55" x2="645.60" y2="932.55" stroke="#222" stroke-width="1.7" stroke-linecap="butt"/>
<line x1="662.20" y1="918.95" x2="670.40" y2="918.95" stroke="#222" stroke-width="1.7" stroke-linecap="butt"/>
<line x1="662.20" y1="932.55" x2="670.40" y2="932.55" stroke="#222" stroke-width="1.7" stroke-linecap="butt"/>
<line x1="666.30" y1="928.45" x2="666.30" y2="936.65" stroke="#222" stroke-width="1.7" stroke-linecap="butt"/>
<text x="567.80" y="921.94" font-size="7.2" text-anchor="end" font-weight="normal" font-style="normal" fill="#222">ΔGFP</text>
<text x="567.80" y="935.54" font-size="7.2" text-anchor="end" font-weight="normal" font-style="normal" fill="#222">ΔATF4</text>
<text x="626.75" y="950.44" font-size="9" text-anchor="middle" font-weight="normal" font-style="normal" fill="#222">H1437</text>
<line x1="584.50" y1="767.50" x2="607.70" y2="767.50" stroke="#111" stroke-width="1.2" stroke-linecap="butt"/>
<text x="596.10" y="765.71" font-size="7.8" text-anchor="middle" font-weight="normal" font-style="normal" fill="#222">n.s.</text>
<line x1="646.90" y1="767.50" x2="670.20" y2="767.50" stroke="#111" stroke-width="1.2" stroke-linecap="butt"/>
<text x="658.55" y="765.71" font-size="7.8" text-anchor="middle" font-weight="normal" font-style="normal" fill="#222">n.s.</text>
<text x="594.50" y="753.38" font-size="9.4" text-anchor="middle" font-weight="normal" font-style="italic" fill="#222">ACTIN</text>
<text x="651.30" y="753.38" font-size="9.4" text-anchor="middle" font-weight="normal" font-style="italic" fill="#222">GDF15</text>
<text x="545.90" y="840.35" font-size="9.3" text-anchor="middle" font-weight="normal" font-style="normal" fill="#222" transform="rotate(-90 545.90 837.00)">Relative mRNA</text>
<text x="24.10" y="13.60" font-size="16.3" font-weight="bold" fill="#111">A</text>
<rect x="84.30" y="7.50" width="72.00" height="37.10" fill="#fff" stroke="#222" stroke-width="1.35" />
<line x1="84.30" y1="20.50" x2="156.30" y2="20.50" stroke="#222" stroke-width="1.35" stroke-linecap="butt"/>
<line x1="84.30" y1="32.40" x2="156.30" y2="32.40" stroke="#222" stroke-width="1.35" stroke-linecap="butt"/>
<line x1="84.30" y1="44.60" x2="156.30" y2="44.60" stroke="#222" stroke-width="1.9" stroke-linecap="butt"/>
<line x1="120.20" y1="20.50" x2="120.20" y2="44.60" stroke="#222" stroke-width="1.35" stroke-linecap="butt"/>
<line x1="100.80" y1="32.40" x2="100.80" y2="44.60" stroke="#222" stroke-width="1.35" stroke-linecap="butt"/>
<text x="120.30" y="17.24" font-size="9" text-anchor="middle" font-weight="normal" font-style="normal" fill="#222">H1437</text>
<line x1="97.05" y1="26.60" x2="104.85" y2="26.60" stroke="#222" stroke-width="1.5" stroke-linecap="butt"/>
<line x1="134.10" y1="26.60" x2="141.90" y2="26.60" stroke="#222" stroke-width="1.5" stroke-linecap="butt"/>
<line x1="138.00" y1="22.70" x2="138.00" y2="30.50" stroke="#222" stroke-width="1.5" stroke-linecap="butt"/>
<line x1="89.10" y1="38.80" x2="96.90" y2="38.80" stroke="#222" stroke-width="1.5" stroke-linecap="butt"/>
<line x1="106.20" y1="38.80" x2="114.00" y2="38.80" stroke="#222" stroke-width="1.5" stroke-linecap="butt"/>
<line x1="110.10" y1="34.90" x2="110.10" y2="42.70" stroke="#222" stroke-width="1.5" stroke-linecap="butt"/>
<line x1="134.20" y1="38.80" x2="142.00" y2="38.80" stroke="#222" stroke-width="1.5" stroke-linecap="butt"/>
<text x="77.50" y="29.84" font-size="9" text-anchor="end" font-style="normal" fill="#222">pLVX<tspan dy="-3.24" font-size="5.2">STK11</tspan></text>
<text x="78.40" y="41.84" font-size="9" text-anchor="end" font-weight="normal" font-style="normal" fill="#222">pLVX</text>
<text x="158.40" y="41.82" font-size="9.5" text-anchor="start" font-weight="normal" font-style="normal" fill="#222">kDa</text>
<line x1="158.10" y1="43.42" x2="175.00" y2="43.42" stroke="#444" stroke-width="0.9" stroke-linecap="butt"/>
<rect x="84.30" y="45.50" width="72.00" height="43.60" fill="#e1e1e1" stroke="#3a3a3a" stroke-width="1.0" />
<rect x="84.30" y="91.60" width="72.00" height="29.80" fill="#e1e1e1" stroke="#3a3a3a" stroke-width="1.0" />
<rect x="84.30" y="123.40" width="72.00" height="36.60" fill="#e1e1e1" stroke="#3a3a3a" stroke-width="1.0" />
<rect x="84.30" y="162.60" width="72.00" height="80.40" fill="#e1e1e1" stroke="#3a3a3a" stroke-width="1.0" />
<rect x="84.30" y="245.60" width="72.00" height="29.40" fill="#e1e1e1" stroke="#3a3a3a" stroke-width="1.0" />
<rect x="121.90" y="69.20" width="13.60" height="7.00" rx="3.40" fill="#000" fill-opacity="1" filter="url(#b6)"/>
<rect x="138.90" y="68.50" width="14.00" height="8.40" rx="3.80" fill="#000" fill-opacity="1" filter="url(#b6)"/>
<rect x="140.15" y="79.50" width="11.50" height="4.00" rx="2.00" fill="#000" fill-opacity="0.7" filter="url(#b8)"/>
<rect x="124.55" y="80.80" width="8.50" height="1.20" rx="0.60" fill="#000" fill-opacity="0.22" filter="url(#b5)"/>
<rect x="121.40" y="102.90" width="13.00" height="4.20" rx="2.10" fill="#000" fill-opacity="1" filter="url(#b6)"/>
<rect x="139.00" y="102.10" width="12.60" height="5.40" rx="2.70" fill="#000" fill-opacity="1" filter="url(#b6)"/>
<rect x="87.10" y="141.20" width="13.00" height="4.80" rx="2.40" fill="#000" fill-opacity="1" filter="url(#b6)"/>
<rect x="104.10" y="140.80" width="14.40" height="5.40" rx="2.70" fill="#000" fill-opacity="1" filter="url(#b6)"/>
<rect x="123.90" y="142.40" width="12.00" height="3.20" rx="1.60" fill="#000" fill-opacity="0.8" filter="url(#b6)"/>
<rect x="141.80" y="141.70" width="11.80" height="3.80" rx="1.90" fill="#000" fill-opacity="0.95" filter="url(#b6)"/>
<rect x="88.50" y="169.60" width="12.60" height="6.40" rx="3.00" fill="#000" fill-opacity="1" filter="url(#b5)"/>
<rect x="105.00" y="168.10" width="15.00" height="9.60" rx="3.50" fill="#000" fill-opacity="1" filter="url(#b6)"/>
<rect x="89.30" y="231.50" width="10.00" height="3.60" rx="1.80" fill="#000" fill-opacity="0.95" filter="url(#b5)"/>
<rect x="104.20" y="230.60" width="14.40" height="5.80" rx="2.80" fill="#000" fill-opacity="1" filter="url(#b5)"/>
<rect x="85.20" y="259.60" width="15.20" height="2.80" rx="1.20" fill="#000" fill-opacity="1" filter="url(#b4)"/>
<rect x="87.33" y="261.30" width="10.94" height="2.20" rx="1.10" fill="#000" fill-opacity="1" filter="url(#b4)"/>
<rect x="101.85" y="259.60" width="16.10" height="2.80" rx="1.20" fill="#000" fill-opacity="1" filter="url(#b4)"/>
<rect x="104.10" y="261.30" width="11.59" height="2.20" rx="1.10" fill="#000" fill-opacity="1" filter="url(#b4)"/>
<rect x="120.85" y="259.60" width="17.50" height="2.80" rx="1.20" fill="#000" fill-opacity="1" filter="url(#b4)"/>
<rect x="123.30" y="261.30" width="12.60" height="2.20" rx="1.10" fill="#000" fill-opacity="1" filter="url(#b4)"/>
<rect x="139.85" y="259.60" width="15.70" height="2.80" rx="1.20" fill="#000" fill-opacity="1" filter="url(#b4)"/>
<rect x="142.05" y="261.30" width="11.30" height="2.20" rx="1.10" fill="#000" fill-opacity="1" filter="url(#b4)"/>
<line x1="156.50" y1="49.90" x2="160.30" y2="49.90" stroke="#222" stroke-width="1.25" stroke-linecap="butt"/>
<text x="161.80" y="52.90" font-size="9.3" text-anchor="start" font-weight="normal" font-style="normal" fill="#222">75</text>
<line x1="156.50" y1="76.20" x2="160.30" y2="76.20" stroke="#222" stroke-width="1.25" stroke-linecap="butt"/>
<text x="161.80" y="79.20" font-size="9.3" text-anchor="start" font-weight="normal" font-style="normal" fill="#222">50</text>
<line x1="156.50" y1="92.50" x2="160.30" y2="92.50" stroke="#222" stroke-width="1.25" stroke-linecap="butt"/>
<text x="161.80" y="95.50" font-size="9.3" text-anchor="start" font-weight="normal" font-style="normal" fill="#222">75</text>
<line x1="156.50" y1="118.70" x2="160.30" y2="118.70" stroke="#222" stroke-width="1.25" stroke-linecap="butt"/>
<text x="161.80" y="121.70" font-size="9.3" text-anchor="start" font-weight="normal" font-style="normal" fill="#222">50</text>
<line x1="156.50" y1="129.20" x2="160.30" y2="129.20" stroke="#222" stroke-width="1.25" stroke-linecap="butt"/>
<text x="161.80" y="132.20" font-size="9.3" text-anchor="start" font-weight="normal" font-style="normal" fill="#222">75</text>
<line x1="156.50" y1="156.00" x2="160.30" y2="156.00" stroke="#222" stroke-width="1.25" stroke-linecap="butt"/>
<text x="161.80" y="159.00" font-size="9.3" text-anchor="start" font-weight="normal" font-style="normal" fill="#222">50</text>
<line x1="156.50" y1="168.60" x2="160.30" y2="168.60" stroke="#222" stroke-width="1.25" stroke-linecap="butt"/>
<text x="161.80" y="171.60" font-size="9.3" text-anchor="start" font-weight="normal" font-style="normal" fill="#222">37</text>
<line x1="156.50" y1="190.00" x2="160.30" y2="190.00" stroke="#222" stroke-width="1.25" stroke-linecap="butt"/>
<text x="161.80" y="193.00" font-size="9.3" text-anchor="start" font-weight="normal" font-style="normal" fill="#222">25</text>
<line x1="156.50" y1="202.20" x2="160.30" y2="202.20" stroke="#222" stroke-width="1.25" stroke-linecap="butt"/>
<text x="161.80" y="205.20" font-size="9.3" text-anchor="start" font-weight="normal" font-style="normal" fill="#222">20</text>
<line x1="156.50" y1="225.00" x2="160.30" y2="225.00" stroke="#222" stroke-width="1.25" stroke-linecap="butt"/>
<text x="161.80" y="228.00" font-size="9.3" text-anchor="start" font-weight="normal" font-style="normal" fill="#222">15</text>
<line x1="156.50" y1="252.70" x2="160.30" y2="252.70" stroke="#222" stroke-width="1.25" stroke-linecap="butt"/>
<text x="161.80" y="255.70" font-size="9.3" text-anchor="start" font-weight="normal" font-style="normal" fill="#222">50</text>
<line x1="156.50" y1="268.00" x2="160.30" y2="268.00" stroke="#222" stroke-width="1.25" stroke-linecap="butt"/>
<text x="161.80" y="271.00" font-size="9.3" text-anchor="start" font-weight="normal" font-style="normal" fill="#222">37</text>
<polyline points="172.30,45.70 175.80,45.70 175.80,275.20 172.30,275.20" fill="none" stroke="#777" stroke-width="1.1" stroke-linejoin="round"/>
<text x="181.40" y="163.91" font-size="9.2" text-anchor="middle" font-weight="normal" font-style="normal" fill="#222" transform="rotate(90 181.40 160.60)">Cells</text>
<text x="21.10" y="74.02" font-size="9.5" text-anchor="start" font-weight="normal" font-style="normal" fill="#222">STK11/LKB1</text>
<text x="25.00" y="108.42" font-size="9.5" text-anchor="start" font-style="normal" fill="#222">pAMPKα<tspan dy="-3.42" font-size="5.4">T172</tspan></text>
<text x="45.00" y="147.02" font-size="9.5" text-anchor="start" font-weight="normal" font-style="normal" fill="#222">AMPKα</text>
<line x1="74.00" y1="174.10" x2="80.00" y2="174.10" stroke="#222" stroke-width="1.1" stroke-linecap="butt"/>
<polygon points="83.00,174.10 78.20,171.80 79.20,174.10 78.20,176.40" fill="#222" stroke="none" stroke-width="0"/>
<text x="72.60" y="177.52" font-size="9.5" text-anchor="end" font-weight="normal" font-style="normal" fill="#222">P</text>
<text x="47.30" y="211.92" font-size="9.5" text-anchor="start" font-weight="normal" font-style="normal" fill="#222">GDF15</text>
<line x1="74.00" y1="235.20" x2="80.00" y2="235.20" stroke="#222" stroke-width="1.1" stroke-linecap="butt"/>
<polygon points="83.00,235.20 78.20,232.90 79.20,235.20 78.20,237.50" fill="#222" stroke="none" stroke-width="0"/>
<text x="72.60" y="238.62" font-size="9.5" text-anchor="end" font-weight="normal" font-style="normal" fill="#222">M</text>
<text x="57.80" y="264.62" font-size="9.5" text-anchor="start" font-weight="normal" font-style="normal" fill="#222">Actin</text>
<text x="173.30" y="13.70" font-size="16.3" font-weight="bold" fill="#111">B</text>
<rect x="240.20" y="7.60" width="183.40" height="46.40" fill="#fff" stroke="#222" stroke-width="1.3" />
<line x1="240.20" y1="19.60" x2="423.60" y2="19.60" stroke="#222" stroke-width="1.3" stroke-linecap="butt"/>
<line x1="240.20" y1="31.60" x2="423.60" y2="31.60" stroke="#222" stroke-width="1.3" stroke-linecap="butt"/>
<line x1="240.20" y1="42.60" x2="423.60" y2="42.60" stroke="#222" stroke-width="1.3" stroke-linecap="butt"/>
<line x1="240.20" y1="54.00" x2="423.60" y2="54.00" stroke="#222" stroke-width="1.8" stroke-linecap="butt"/>
<line x1="302.80" y1="19.60" x2="302.80" y2="54.00" stroke="#222" stroke-width="1.3" stroke-linecap="butt"/>
<line x1="363.80" y1="19.60" x2="363.80" y2="54.00" stroke="#222" stroke-width="1.3" stroke-linecap="butt"/>
<text x="331.90" y="16.84" font-size="9" text-anchor="middle" font-weight="normal" font-style="normal" fill="#222">H1437</text>
<line x1="267.30" y1="25.40" x2="274.70" y2="25.40" stroke="#222" stroke-width="1.4" stroke-linecap="butt"/>
<line x1="328.50" y1="25.40" x2="335.90" y2="25.40" stroke="#222" stroke-width="1.4" stroke-linecap="butt"/>
<line x1="389.50" y1="25.40" x2="396.90" y2="25.40" stroke="#222" stroke-width="1.4" stroke-linecap="butt"/>
<line x1="393.20" y1="21.70" x2="393.20" y2="29.10" stroke="#222" stroke-width="1.4" stroke-linecap="butt"/>
<line x1="266.70" y1="37.20" x2="274.10" y2="37.20" stroke="#222" stroke-width="1.4" stroke-linecap="butt"/>
<line x1="328.40" y1="37.30" x2="335.80" y2="37.30" stroke="#222" stroke-width="1.4" stroke-linecap="butt"/>
<line x1="332.10" y1="33.60" x2="332.10" y2="41.00" stroke="#222" stroke-width="1.4" stroke-linecap="butt"/>
<line x1="389.50" y1="37.20" x2="396.90" y2="37.20" stroke="#222" stroke-width="1.4" stroke-linecap="butt"/>
<polygon points="243.20,44.20 300.00,51.30 300.00,52.80 243.20,52.80" fill="#1e1e1e" stroke="none" stroke-width="0"/>
<polygon points="305.80,44.20 361.00,51.30 361.00,52.80 305.80,52.80" fill="#1e1e1e" stroke="none" stroke-width="0"/>
<polygon points="366.80,44.20 420.80,51.30 420.80,52.80 366.80,52.80" fill="#1e1e1e" stroke="none" stroke-width="0"/>
<text x="232.00" y="28.84" font-size="9" text-anchor="end" font-style="normal" fill="#222">pLVX<tspan dy="-3.24" font-size="5.2">STK11</tspan></text>
<text x="234.50" y="40.84" font-size="9" text-anchor="end" font-weight="normal" font-style="normal" fill="#222">pLVX</text>
<text x="232.80" y="51.84" font-size="9" text-anchor="end" font-weight="normal" font-style="normal" fill="#222">Glucose</text>
<text x="425.20" y="51.02" font-size="9.5" text-anchor="start" font-weight="normal" font-style="normal" fill="#222">kDa</text>
<line x1="424.90" y1="52.62" x2="441.80" y2="52.62" stroke="#444" stroke-width="0.9" stroke-linecap="butt"/>
<rect x="239.60" y="56.10" width="183.70" height="23.30" fill="#e1e1e1" stroke="#3a3a3a" stroke-width="1.0" />
<rect x="239.40" y="81.00" width="183.90" height="70.40" fill="#e1e1e1" stroke="#3a3a3a" stroke-width="1.0" />
<rect x="239.20" y="154.20" width="183.90" height="32.50" fill="#e1e1e1" stroke="#3a3a3a" stroke-width="1.0" />
<rect x="239.20" y="189.40" width="183.90" height="35.70" fill="#e1e1e1" stroke="#3a3a3a" stroke-width="1.0" />
<rect x="239.20" y="227.60" width="183.90" height="27.70" fill="#e1e1e1" stroke="#3a3a3a" stroke-width="1.0" />
<rect x="239.20" y="257.40" width="183.90" height="15.00" fill="#e1e1e1" stroke="#3a3a3a" stroke-width="1.0" />
<rect x="242.40" y="62.40" width="10.00" height="4.40" rx="2.20" fill="#000" fill-opacity="1" filter="url(#b5)"/>
<rect x="255.55" y="62.70" width="11.50" height="3.80" rx="1.90" fill="#000" fill-opacity="1" filter="url(#b5)"/>
<rect x="271.20" y="63.10" width="10.00" height="3.00" rx="1.50" fill="#000" fill-opacity="1" filter="url(#b5)"/>
<rect x="287.20" y="63.30" width="10.00" height="2.60" rx="1.30" fill="#000" fill-opacity="1" filter="url(#b5)"/>
<rect x="302.15" y="62.60" width="11.50" height="4.00" rx="2.00" fill="#000" fill-opacity="1" filter="url(#b5)"/>
<rect x="317.90" y="62.80" width="11.00" height="3.60" rx="1.80" fill="#000" fill-opacity="1" filter="url(#b5)"/>
<rect x="334.75" y="62.90" width="10.50" height="3.40" rx="1.70" fill="#000" fill-opacity="1" filter="url(#b5)"/>
<rect x="350.50" y="63.20" width="10.00" height="2.80" rx="1.40" fill="#000" fill-opacity="1" filter="url(#b5)"/>
<rect x="240.70" y="85.70" width="11.40" height="6.40" rx="3.20" fill="#000" fill-opacity="1" filter="url(#b6)"/>
<rect x="254.00" y="85.60" width="14.00" height="12.00" rx="6.00" fill="#000" fill-opacity="1" filter="url(#b6)"/>
<rect x="268.70" y="86.40" width="16.60" height="13.20" rx="6.60" fill="#000" fill-opacity="1" filter="url(#b6)"/>
<rect x="285.70" y="86.50" width="17.60" height="13.80" rx="6.90" fill="#000" fill-opacity="1" filter="url(#b6)"/>
<rect x="305.80" y="87.90" width="10.80" height="4.20" rx="2.10" fill="#000" fill-opacity="1" filter="url(#b6)"/>
<rect x="319.60" y="89.10" width="13.60" height="8.20" rx="4.10" fill="#000" fill-opacity="1" filter="url(#b6)"/>
<rect x="334.80" y="90.40" width="14.00" height="8.40" rx="4.20" fill="#000" fill-opacity="1" filter="url(#b6)"/>
<rect x="350.90" y="91.80" width="15.00" height="7.40" rx="3.70" fill="#000" fill-opacity="1" filter="url(#b6)"/>
<rect x="241.90" y="102.20" width="9.00" height="2.00" rx="1.00" fill="#000" fill-opacity="0.3" filter="url(#b7)"/>
<rect x="271.55" y="101.90" width="11.50" height="2.60" rx="1.30" fill="#000" fill-opacity="0.75" filter="url(#b5)"/>
<rect x="288.25" y="102.30" width="12.50" height="2.60" rx="1.30" fill="#000" fill-opacity="0.75" filter="url(#b5)"/>
<rect x="240.75" y="139.60" width="9.50" height="3.00" rx="1.50" fill="#000" fill-opacity="0.8" filter="url(#b5)"/>
<rect x="254.20" y="139.90" width="12.00" height="3.80" rx="1.90" fill="#000" fill-opacity="1" filter="url(#b5)"/>
<rect x="269.30" y="138.20" width="14.00" height="4.80" rx="2.40" fill="#000" fill-opacity="1" filter="url(#b5)"/>
<rect x="286.50" y="138.20" width="16.00" height="5.20" rx="2.60" fill="#000" fill-opacity="1" filter="url(#b5)"/>
<rect x="306.70" y="140.90" width="8.00" height="2.20" rx="1.10" fill="#000" fill-opacity="0.45" filter="url(#b5)"/>
<rect x="319.70" y="139.90" width="11.00" height="3.40" rx="1.70" fill="#000" fill-opacity="1" filter="url(#b5)"/>
<rect x="334.95" y="140.80" width="11.50" height="3.40" rx="1.70" fill="#000" fill-opacity="1" filter="url(#b5)"/>
<rect x="352.50" y="142.70" width="12.00" height="2.40" rx="1.20" fill="#000" fill-opacity="0.55" filter="url(#b5)"/>
<rect x="258.20" y="178.80" width="9.00" height="4.80" rx="2.40" fill="#000" fill-opacity="1" filter="url(#b6)"/>
<rect x="272.80" y="178.80" width="9.40" height="4.40" rx="2.20" fill="#000" fill-opacity="1" filter="url(#b6)"/>
<rect x="307.00" y="179.85" width="4.00" height="1.50" rx="0.75" fill="#000" fill-opacity="0.3" filter="url(#b9)"/>
<rect x="318.05" y="177.30" width="10.50" height="6.20" rx="3.10" fill="#000" fill-opacity="1" filter="url(#b6)"/>
<rect x="333.75" y="177.90" width="10.50" height="5.20" rx="2.60" fill="#000" fill-opacity="0.9" filter="url(#b6)"/>
<rect x="380.65" y="179.30" width="7.50" height="2.60" rx="1.30" fill="#000" fill-opacity="0.45" filter="url(#b9)"/>
<rect x="396.50" y="179.50" width="6.00" height="2.20" rx="1.10" fill="#000" fill-opacity="0.35" filter="url(#b9)"/>
<rect x="415.50" y="179.60" width="3.00" height="2.00" rx="1.00" fill="#000" fill-opacity="0.2" filter="url(#b9)"/>
<rect x="288.40" y="172.80" width="10.40" height="9.60" rx="2.20" fill="#000" fill-opacity="0.72" filter="url(#b6)"/>
<rect x="289.10" y="179.00" width="9.00" height="3.00" rx="1.50" fill="#000" fill-opacity="0.5" filter="url(#b6)"/>
<rect x="348.65" y="169.90" width="13.30" height="14.60" rx="4.60" fill="#000" fill-opacity="1" filter="url(#b6)"/>
<rect x="254.35" y="205.40" width="6.50" height="2.40" rx="1.20" fill="#000" fill-opacity="0.9" filter="url(#b6)"/>
<rect x="269.45" y="203.80" width="12.50" height="4.00" rx="2.00" fill="#000" fill-opacity="1" filter="url(#b6)"/>
<rect x="287.05" y="204.50" width="10.50" height="2.60" rx="1.30" fill="#000" fill-opacity="0.8" filter="url(#b6)"/>
<rect x="318.70" y="203.60" width="8.00" height="2.20" rx="1.10" fill="#000" fill-opacity="0.8" filter="url(#b6)"/>
<rect x="331.75" y="202.30" width="10.50" height="3.00" rx="1.50" fill="#000" fill-opacity="1" filter="url(#b6)"/>
<rect x="348.75" y="202.60" width="10.50" height="3.60" rx="1.80" fill="#000" fill-opacity="1" filter="url(#b6)"/>
<rect x="379.00" y="203.05" width="10.00" height="5.50" rx="2.75" fill="#000" fill-opacity="1" filter="url(#b6)"/>
<rect x="393.30" y="202.55" width="11.00" height="6.50" rx="3.25" fill="#000" fill-opacity="1" filter="url(#b6)"/>
<rect x="408.80" y="202.35" width="10.00" height="6.50" rx="3.25" fill="#000" fill-opacity="1" filter="url(#b6)"/>
<rect x="364.70" y="245.20" width="11.00" height="6.20" rx="2.80" fill="#000" fill-opacity="1" filter="url(#b5)"/>
<rect x="378.90" y="245.20" width="11.00" height="6.20" rx="2.80" fill="#000" fill-opacity="1" filter="url(#b5)"/>
<rect x="393.80" y="245.20" width="11.00" height="6.20" rx="2.80" fill="#000" fill-opacity="1" filter="url(#b5)"/>
<rect x="409.20" y="245.20" width="11.00" height="6.20" rx="2.80" fill="#000" fill-opacity="1" filter="url(#b5)"/>
<rect x="241.05" y="262.20" width="12.50" height="2.60" rx="1.30" fill="#000" fill-opacity="1" filter="url(#b4)"/>
<rect x="255.95" y="262.20" width="12.50" height="2.60" rx="1.30" fill="#000" fill-opacity="1" filter="url(#b4)"/>
<rect x="271.35" y="262.20" width="12.50" height="2.60" rx="1.30" fill="#000" fill-opacity="1" filter="url(#b4)"/>
<rect x="287.15" y="261.40" width="12.50" height="2.60" rx="1.30" fill="#000" fill-opacity="1" filter="url(#b4)"/>
<rect x="302.75" y="261.40" width="12.50" height="2.60" rx="1.30" fill="#000" fill-opacity="1" filter="url(#b4)"/>
<rect x="318.35" y="261.40" width="12.50" height="2.60" rx="1.30" fill="#000" fill-opacity="1" filter="url(#b4)"/>
<rect x="333.95" y="261.40" width="12.50" height="2.60" rx="1.30" fill="#000" fill-opacity="1" filter="url(#b4)"/>
<rect x="349.55" y="261.40" width="12.50" height="2.60" rx="1.30" fill="#000" fill-opacity="1" filter="url(#b4)"/>
<rect x="364.15" y="262.20" width="12.50" height="2.60" rx="1.30" fill="#000" fill-opacity="1" filter="url(#b4)"/>
<rect x="378.55" y="262.20" width="12.50" height="2.60" rx="1.30" fill="#000" fill-opacity="1" filter="url(#b4)"/>
<rect x="393.25" y="262.20" width="12.50" height="2.60" rx="1.30" fill="#000" fill-opacity="1" filter="url(#b4)"/>
<rect x="408.55" y="262.20" width="12.50" height="2.60" rx="1.30" fill="#000" fill-opacity="1" filter="url(#b4)"/>
<line x1="423.50" y1="59.80" x2="427.30" y2="59.80" stroke="#222" stroke-width="1.25" stroke-linecap="butt"/>
<text x="428.10" y="62.80" font-size="9.3" text-anchor="start" font-weight="normal" font-style="normal" fill="#222">20</text>
<line x1="423.50" y1="75.50" x2="427.30" y2="75.50" stroke="#222" stroke-width="1.25" stroke-linecap="butt"/>
<text x="428.10" y="78.50" font-size="9.3" text-anchor="start" font-weight="normal" font-style="normal" fill="#222">15</text>
<line x1="423.50" y1="92.00" x2="427.30" y2="92.00" stroke="#222" stroke-width="1.25" stroke-linecap="butt"/>
<text x="428.10" y="95.00" font-size="9.3" text-anchor="start" font-weight="normal" font-style="normal" fill="#222">37</text>
<line x1="423.50" y1="111.00" x2="427.30" y2="111.00" stroke="#222" stroke-width="1.25" stroke-linecap="butt"/>
<text x="428.10" y="114.00" font-size="9.3" text-anchor="start" font-weight="normal" font-style="normal" fill="#222">25</text>
<line x1="423.50" y1="122.40" x2="427.30" y2="122.40" stroke="#222" stroke-width="1.25" stroke-linecap="butt"/>
<text x="428.10" y="125.40" font-size="9.3" text-anchor="start" font-weight="normal" font-style="normal" fill="#222">20</text>
<line x1="423.50" y1="142.90" x2="427.30" y2="142.90" stroke="#222" stroke-width="1.25" stroke-linecap="butt"/>
<text x="428.10" y="145.90" font-size="9.3" text-anchor="start" font-weight="normal" font-style="normal" fill="#222">15</text>
<line x1="423.50" y1="154.30" x2="427.30" y2="154.30" stroke="#222" stroke-width="1.25" stroke-linecap="butt"/>
<text x="428.10" y="157.30" font-size="9.3" text-anchor="start" font-weight="normal" font-style="normal" fill="#222">75</text>
<line x1="423.50" y1="179.30" x2="427.30" y2="179.30" stroke="#222" stroke-width="1.25" stroke-linecap="butt"/>
<text x="428.10" y="182.30" font-size="9.3" text-anchor="start" font-weight="normal" font-style="normal" fill="#222">50</text>
<line x1="423.50" y1="191.40" x2="427.30" y2="191.40" stroke="#222" stroke-width="1.25" stroke-linecap="butt"/>
<text x="428.10" y="194.40" font-size="9.3" text-anchor="start" font-weight="normal" font-style="normal" fill="#222">37</text>
<line x1="423.50" y1="220.60" x2="427.30" y2="220.60" stroke="#222" stroke-width="1.25" stroke-linecap="butt"/>
<text x="428.10" y="223.60" font-size="9.3" text-anchor="start" font-weight="normal" font-style="normal" fill="#222">25</text>
<line x1="423.50" y1="229.30" x2="427.30" y2="229.30" stroke="#222" stroke-width="1.25" stroke-linecap="butt"/>
<text x="428.10" y="232.30" font-size="9.3" text-anchor="start" font-weight="normal" font-style="normal" fill="#222">75</text>
<line x1="423.50" y1="251.00" x2="427.30" y2="251.00" stroke="#222" stroke-width="1.25" stroke-linecap="butt"/>
<text x="428.10" y="254.00" font-size="9.3" text-anchor="start" font-weight="normal" font-style="normal" fill="#222">50</text>
<line x1="423.50" y1="259.00" x2="427.30" y2="259.00" stroke="#222" stroke-width="1.25" stroke-linecap="butt"/>
<text x="428.10" y="262.00" font-size="9.3" text-anchor="start" font-weight="normal" font-style="normal" fill="#222">50</text>
<line x1="423.50" y1="268.40" x2="427.30" y2="268.40" stroke="#222" stroke-width="1.25" stroke-linecap="butt"/>
<text x="428.10" y="271.40" font-size="9.3" text-anchor="start" font-weight="normal" font-style="normal" fill="#222">37</text>
<polyline points="436.50,55.80 440.00,55.80 440.00,78.80 436.50,78.80" fill="none" stroke="#777" stroke-width="1.1" stroke-linejoin="round"/>
<text x="446.80" y="72.31" font-size="9.2" text-anchor="middle" font-weight="normal" font-style="normal" fill="#222" transform="rotate(90 446.80 69.00)">Medium</text>
<polyline points="437.00,82.80 440.50,82.80 440.50,273.00 437.00,273.00" fill="none" stroke="#777" stroke-width="1.1" stroke-linejoin="round"/>
<text x="446.40" y="182.11" font-size="9.2" text-anchor="middle" font-weight="normal" font-style="normal" fill="#222" transform="rotate(90 446.40 178.80)">Cells</text>
<polyline points="225.40,55.30 221.10,55.30 221.10,152.80 225.40,152.80" fill="none" stroke="#999" stroke-width="1.2" stroke-linejoin="round"/>
<text x="215.50" y="105.96" font-size="9.9" text-anchor="middle" font-weight="normal" font-style="normal" fill="#222" transform="rotate(-90 215.50 102.40)">GDF15</text>
<line x1="229.60" y1="64.90" x2="235.60" y2="64.90" stroke="#222" stroke-width="1.1" stroke-linecap="butt"/>
<polygon points="238.60,64.90 233.80,62.60 234.80,64.90 233.80,67.20" fill="#222" stroke="none" stroke-width="0"/>
<text x="228.20" y="68.32" font-size="9.5" text-anchor="end" font-weight="normal" font-style="normal" fill="#222">M</text>
<line x1="229.60" y1="91.20" x2="235.60" y2="91.20" stroke="#222" stroke-width="1.1" stroke-linecap="butt"/>
<polygon points="238.60,91.20 233.80,88.90 234.80,91.20 233.80,93.50" fill="#222" stroke="none" stroke-width="0"/>
<text x="228.20" y="94.62" font-size="9.5" text-anchor="end" font-weight="normal" font-style="normal" fill="#222">P</text>
<line x1="229.60" y1="141.90" x2="235.60" y2="141.90" stroke="#222" stroke-width="1.1" stroke-linecap="butt"/>
<polygon points="238.60,141.90 233.80,139.60 234.80,141.90 233.80,144.20" fill="#222" stroke="none" stroke-width="0"/>
<text x="228.20" y="145.32" font-size="9.5" text-anchor="end" font-weight="normal" font-style="normal" fill="#222">M</text>
<text x="212.80" y="174.92" font-size="9.5" text-anchor="start" font-weight="normal" font-style="normal" fill="#222">ATF4</text>
<text x="206.80" y="210.72" font-size="9.5" text-anchor="start" font-weight="normal" font-style="normal" fill="#222">CHOP</text>
<text x="205.70" y="247.22" font-size="9.5" text-anchor="start" font-weight="normal" font-style="normal" fill="#222">STK11</text>
<text x="214.00" y="266.92" font-size="9.5" text-anchor="start" font-weight="normal" font-style="normal" fill="#222">Actin</text>
<text x="468.50" y="13.30" font-size="16.3" font-weight="bold" fill="#111">C</text>
<rect x="507.70" y="0.90" width="72.30" height="36.30" fill="#fff" stroke="#222" stroke-width="1.4" />
<line x1="507.70" y1="13.80" x2="580.00" y2="13.80" stroke="#222" stroke-width="1.4" stroke-linecap="butt"/>
<line x1="507.70" y1="25.60" x2="580.00" y2="25.60" stroke="#222" stroke-width="1.4" stroke-linecap="butt"/>
<line x1="507.70" y1="37.20" x2="580.00" y2="37.20" stroke="#222" stroke-width="1.9" stroke-linecap="butt"/>
<line x1="543.60" y1="13.80" x2="543.60" y2="37.20" stroke="#222" stroke-width="1.4" stroke-linecap="butt"/>
<line x1="524.60" y1="25.60" x2="524.60" y2="37.20" stroke="#222" stroke-width="1.4" stroke-linecap="butt"/>
<text x="543.85" y="10.84" font-size="9" text-anchor="middle" font-weight="normal" font-style="normal" fill="#222">H1437</text>
<line x1="520.50" y1="19.90" x2="528.30" y2="19.90" stroke="#222" stroke-width="1.5" stroke-linecap="butt"/>
<line x1="557.30" y1="19.90" x2="565.10" y2="19.90" stroke="#222" stroke-width="1.5" stroke-linecap="butt"/>
<line x1="561.20" y1="16.00" x2="561.20" y2="23.80" stroke="#222" stroke-width="1.5" stroke-linecap="butt"/>
<line x1="512.50" y1="31.80" x2="520.30" y2="31.80" stroke="#222" stroke-width="1.5" stroke-linecap="butt"/>
<line x1="529.80" y1="31.80" x2="537.60" y2="31.80" stroke="#222" stroke-width="1.5" stroke-linecap="butt"/>
<line x1="533.70" y1="27.90" x2="533.70" y2="35.70" stroke="#222" stroke-width="1.5" stroke-linecap="butt"/>
<line x1="557.60" y1="31.80" x2="565.40" y2="31.80" stroke="#222" stroke-width="1.5" stroke-linecap="butt"/>
<text x="462.60" y="23.84" font-size="9" text-anchor="start" font-style="normal" fill="#222">pLVX<tspan dy="-3.24" font-size="5.2">STK11</tspan></text>
<text x="503.80" y="35.24" font-size="9" text-anchor="end" font-weight="normal" font-style="normal" fill="#222">pLVX</text>
<text x="581.50" y="34.42" font-size="9.5" text-anchor="start" font-weight="normal" font-style="normal" fill="#222">kDa</text>
<line x1="581.20" y1="36.02" x2="598.10" y2="36.02" stroke="#444" stroke-width="0.9" stroke-linecap="butt"/>
<rect x="507.40" y="40.50" width="72.20" height="19.70" fill="#e1e1e1" stroke="#3a3a3a" stroke-width="1.0" />
<rect x="507.40" y="63.50" width="72.20" height="23.10" fill="#e1e1e1" stroke="#3a3a3a" stroke-width="1.0" />
<rect x="507.40" y="89.00" width="72.20" height="23.30" fill="#e1e1e1" stroke="#3a3a3a" stroke-width="1.0" />
<rect x="507.40" y="114.70" width="72.20" height="19.60" fill="#e1e1e1" stroke="#3a3a3a" stroke-width="1.0" />
<rect x="507.40" y="136.90" width="72.20" height="23.30" fill="#e1e1e1" stroke="#3a3a3a" stroke-width="1.0" />
<rect x="507.40" y="162.40" width="72.20" height="27.00" fill="#e1e1e1" stroke="#3a3a3a" stroke-width="1.0" />
<rect x="507.40" y="191.30" width="72.20" height="28.40" fill="#e1e1e1" stroke="#3a3a3a" stroke-width="1.0" />
<rect x="507.40" y="222.30" width="72.20" height="28.90" fill="#e1e1e1" stroke="#3a3a3a" stroke-width="1.0" />
<rect x="507.40" y="253.60" width="72.20" height="28.00" fill="#e1e1e1" stroke="#3a3a3a" stroke-width="1.0" />
<rect x="510.95" y="50.80" width="12.50" height="4.40" rx="2.20" fill="#000" fill-opacity="1" filter="url(#b5)"/>
<rect x="529.50" y="50.80" width="12.00" height="4.40" rx="2.20" fill="#000" fill-opacity="1" filter="url(#b5)"/>
<rect x="510.25" y="77.50" width="17.50" height="4.80" rx="2.40" fill="#000" fill-opacity="1" filter="url(#b5)"/>
<rect x="530.70" y="79.10" width="14.00" height="2.20" rx="1.10" fill="#000" fill-opacity="0.6" filter="url(#b5)"/>
<rect x="509.20" y="92.30" width="14.00" height="8.20" rx="3.50" fill="#000" fill-opacity="1" filter="url(#b6)"/>
<rect x="528.60" y="95.10" width="12.40" height="4.60" rx="2.30" fill="#000" fill-opacity="0.95" filter="url(#b6)"/>
<rect x="510.35" y="104.60" width="11.30" height="5.00" rx="2.50" fill="#000" fill-opacity="0.55" filter="url(#b7)"/>
<rect x="529.00" y="105.10" width="11.00" height="4.60" rx="2.30" fill="#000" fill-opacity="0.5" filter="url(#b7)"/>
<rect x="566.25" y="105.70" width="11.50" height="4.60" rx="2.30" fill="#000" fill-opacity="0.65" filter="url(#b8)"/>
<rect x="573.25" y="98.05" width="3.50" height="1.50" rx="0.75" fill="#000" fill-opacity="0.3" filter="url(#b5)"/>
<rect x="508.75" y="118.60" width="12.90" height="3.40" rx="1.70" fill="#000" fill-opacity="1" filter="url(#b5)"/>
<rect x="527.65" y="119.10" width="11.70" height="2.40" rx="1.20" fill="#000" fill-opacity="0.85" filter="url(#b5)"/>
<rect x="508.50" y="143.10" width="70.00" height="5.40" rx="2.50" fill="#000" fill-opacity="1" filter="url(#b7)"/>
<rect x="509.00" y="144.50" width="14.00" height="6.00" rx="3.00" fill="#000" fill-opacity="0.9" filter="url(#b8)"/>
<rect x="509.00" y="149.00" width="14.00" height="8.00" rx="4.00" fill="#000" fill-opacity="0.35" filter="url(#b10)"/>
<rect x="528.00" y="149.00" width="14.00" height="6.00" rx="3.00" fill="#000" fill-opacity="0.15" filter="url(#b10)"/>
<rect x="546.00" y="149.00" width="14.00" height="7.00" rx="3.50" fill="#000" fill-opacity="0.25" filter="url(#b10)"/>
<rect x="564.50" y="149.50" width="14.00" height="8.00" rx="4.00" fill="#000" fill-opacity="0.4" filter="url(#b10)"/>
<rect x="565.50" y="155.25" width="12.00" height="2.50" rx="1.25" fill="#000" fill-opacity="0.45" filter="url(#b6)"/>
<rect x="512.00" y="175.05" width="13.40" height="2.90" rx="1.45" fill="#000" fill-opacity="1" filter="url(#b4)"/>
<rect x="530.80" y="174.60" width="12.60" height="3.40" rx="1.70" fill="#000" fill-opacity="1" filter="url(#b4)"/>
<circle cx="546.10" cy="170.40" r="0.8" fill="#111" stroke="none" stroke-width="0"/>
<rect x="510.00" y="201.30" width="8.00" height="2.60" rx="1.30" fill="#000" fill-opacity="0.9" filter="url(#b5)"/>
<rect x="511.00" y="204.00" width="5.00" height="10.00" rx="5.00" fill="#000" fill-opacity="0.35" filter="url(#b12)"/>
<rect x="525.95" y="201.10" width="9.70" height="3.00" rx="1.50" fill="#000" fill-opacity="1" filter="url(#b4)"/>
<rect x="540.95" y="200.50" width="10.70" height="3.80" rx="1.90" fill="#000" fill-opacity="1" filter="url(#b4)"/>
<rect x="557.80" y="202.00" width="9.60" height="1.60" rx="0.80" fill="#000" fill-opacity="0.5" filter="url(#b4)"/>
<rect x="547.90" y="244.60" width="11.80" height="3.20" rx="1.60" fill="#000" fill-opacity="0.9" filter="url(#b5)"/>
<rect x="562.40" y="242.00" width="14.80" height="8.60" rx="3.50" fill="#000" fill-opacity="1" filter="url(#b6)"/>
<rect x="510.50" y="266.10" width="16.00" height="4.60" rx="2.30" fill="#000" fill-opacity="1" filter="url(#b5)"/>
<rect x="527.90" y="266.10" width="16.00" height="4.60" rx="2.30" fill="#000" fill-opacity="1" filter="url(#b5)"/>
<rect x="545.60" y="266.10" width="16.00" height="4.60" rx="2.30" fill="#000" fill-opacity="1" filter="url(#b5)"/>
<rect x="562.50" y="266.10" width="16.00" height="4.60" rx="2.30" fill="#000" fill-opacity="1" filter="url(#b5)"/>
<line x1="579.80" y1="41.60" x2="583.40" y2="41.60" stroke="#222" stroke-width="1.25" stroke-linecap="butt"/>
<text x="583.80" y="44.60" font-size="9.3" text-anchor="start" font-weight="normal" font-style="normal" fill="#222">37</text>
<line x1="579.80" y1="70.00" x2="583.40" y2="70.00" stroke="#222" stroke-width="1.25" stroke-linecap="butt"/>
<text x="583.80" y="73.00" font-size="9.3" text-anchor="start" font-weight="normal" font-style="normal" fill="#222">20</text>
<line x1="579.80" y1="82.30" x2="583.40" y2="82.30" stroke="#222" stroke-width="1.25" stroke-linecap="butt"/>
<text x="583.80" y="85.30" font-size="9.3" text-anchor="start" font-weight="normal" font-style="normal" fill="#222">15</text>
<line x1="579.80" y1="95.90" x2="583.40" y2="95.90" stroke="#222" stroke-width="1.25" stroke-linecap="butt"/>
<text x="583.50" y="98.72" font-size="8.8" text-anchor="start" font-weight="normal" font-style="normal" fill="#222">150</text>
<line x1="579.80" y1="109.40" x2="583.40" y2="109.40" stroke="#222" stroke-width="1.25" stroke-linecap="butt"/>
<text x="583.50" y="112.22" font-size="8.8" text-anchor="start" font-weight="normal" font-style="normal" fill="#222">100</text>
<line x1="579.80" y1="117.10" x2="583.40" y2="117.10" stroke="#222" stroke-width="1.25" stroke-linecap="butt"/>
<text x="583.80" y="120.10" font-size="9.3" text-anchor="start" font-weight="normal" font-style="normal" fill="#222">37</text>
<line x1="579.80" y1="141.50" x2="583.40" y2="141.50" stroke="#222" stroke-width="1.25" stroke-linecap="butt"/>
<text x="583.80" y="144.50" font-size="9.3" text-anchor="start" font-weight="normal" font-style="normal" fill="#222">37</text>
<line x1="579.80" y1="164.50" x2="583.40" y2="164.50" stroke="#222" stroke-width="1.25" stroke-linecap="butt"/>
<text x="583.80" y="167.50" font-size="9.3" text-anchor="start" font-weight="normal" font-style="normal" fill="#222">75</text>
<line x1="579.80" y1="174.10" x2="583.40" y2="174.10" stroke="#222" stroke-width="1.25" stroke-linecap="butt"/>
<text x="583.80" y="177.10" font-size="9.3" text-anchor="start" font-weight="normal" font-style="normal" fill="#222">50</text>
<line x1="579.80" y1="185.40" x2="583.40" y2="185.40" stroke="#222" stroke-width="1.25" stroke-linecap="butt"/>
<text x="583.80" y="188.40" font-size="9.3" text-anchor="start" font-weight="normal" font-style="normal" fill="#222">37</text>
<line x1="579.80" y1="192.90" x2="583.40" y2="192.90" stroke="#222" stroke-width="1.25" stroke-linecap="butt"/>
<text x="583.80" y="195.90" font-size="9.3" text-anchor="start" font-weight="normal" font-style="normal" fill="#222">37</text>
<line x1="579.80" y1="217.00" x2="583.40" y2="217.00" stroke="#222" stroke-width="1.25" stroke-linecap="butt"/>
<text x="583.80" y="220.00" font-size="9.3" text-anchor="start" font-weight="normal" font-style="normal" fill="#222">25</text>
<line x1="579.80" y1="225.80" x2="583.40" y2="225.80" stroke="#222" stroke-width="1.25" stroke-linecap="butt"/>
<text x="583.80" y="228.80" font-size="9.3" text-anchor="start" font-weight="normal" font-style="normal" fill="#222">75</text>
<line x1="579.80" y1="247.50" x2="583.40" y2="247.50" stroke="#222" stroke-width="1.25" stroke-linecap="butt"/>
<text x="583.80" y="250.50" font-size="9.3" text-anchor="start" font-weight="normal" font-style="normal" fill="#222">60</text>
<line x1="579.80" y1="256.40" x2="583.40" y2="256.40" stroke="#222" stroke-width="1.25" stroke-linecap="butt"/>
<text x="583.80" y="259.40" font-size="9.3" text-anchor="start" font-weight="normal" font-style="normal" fill="#222">50</text>
<line x1="579.80" y1="279.60" x2="583.40" y2="279.60" stroke="#222" stroke-width="1.25" stroke-linecap="butt"/>
<text x="583.80" y="282.60" font-size="9.3" text-anchor="start" font-weight="normal" font-style="normal" fill="#222">37</text>
<polyline points="595.60,39.40 599.60,39.40 599.60,284.30 595.60,284.30" fill="none" stroke="#777" stroke-width="1.1" stroke-linejoin="round"/>
<text x="605.30" y="173.85" font-size="9.3" text-anchor="middle" font-weight="normal" font-style="normal" fill="#222" transform="rotate(90 605.30 170.50)">Tumor</text>
<polyline points="495.20,40.20 490.60,40.20 490.60,86.30 495.20,86.30" fill="none" stroke="#333" stroke-width="1.0" stroke-linejoin="round"/>
<text x="484.10" y="70.03" font-size="9.8" text-anchor="middle" font-weight="normal" font-style="normal" fill="#222" transform="rotate(-90 484.10 66.50)">GDF15</text>
<line x1="497.90" y1="53.30" x2="503.90" y2="53.30" stroke="#222" stroke-width="1.1" stroke-linecap="butt"/>
<polygon points="506.90,53.30 502.10,51.00 503.10,53.30 502.10,55.60" fill="#222" stroke="none" stroke-width="0"/>
<text x="496.50" y="56.72" font-size="9.5" text-anchor="end" font-weight="normal" font-style="normal" fill="#222">P</text>
<line x1="498.00" y1="80.10" x2="504.00" y2="80.10" stroke="#222" stroke-width="1.1" stroke-linecap="butt"/>
<polygon points="507.00,80.10 502.20,77.80 503.20,80.10 502.20,82.40" fill="#222" stroke="none" stroke-width="0"/>
<text x="496.60" y="83.52" font-size="9.5" text-anchor="end" font-weight="normal" font-style="normal" fill="#222">M</text>
<text x="478.00" y="104.62" font-size="9.5" text-anchor="start" font-weight="normal" font-style="normal" fill="#222">PERK</text>
<text x="473.00" y="126.62" font-size="9.5" text-anchor="start" font-weight="normal" font-style="normal" fill="#222">peIF2α</text>
<text x="478.00" y="152.42" font-size="9.5" text-anchor="start" font-weight="normal" font-style="normal" fill="#222">eIF2α</text>
<text x="482.00" y="178.62" font-size="9.5" text-anchor="start" font-weight="normal" font-style="normal" fill="#222">ATF4</text>
<text x="476.40" y="208.22" font-size="9.5" text-anchor="start" font-weight="normal" font-style="normal" fill="#222">CHOP</text>
<text x="475.40" y="241.02" font-size="9.5" text-anchor="start" font-weight="normal" font-style="normal" fill="#222">STK11</text>
<text x="483.00" y="271.22" font-size="9.5" text-anchor="start" font-weight="normal" font-style="normal" fill="#222">Actin</text>
<text x="11.90" y="314.20" font-size="16.3" font-weight="bold" fill="#111">D</text>
<line x1="36.80" y1="313.10" x2="36.80" y2="466.60" stroke="#111" stroke-width="1.8" stroke-linecap="butt"/>
<line x1="35.90" y1="465.70" x2="236.00" y2="465.70" stroke="#111" stroke-width="1.8" stroke-linecap="butt"/>
<line x1="36.80" y1="432.00" x2="41.80" y2="432.00" stroke="#111" stroke-width="1.5" stroke-linecap="butt"/>
<text x="32.40" y="436.24" font-size="9" text-anchor="end" font-weight="normal" font-style="normal" fill="#222">0.5</text>
<line x1="36.80" y1="398.30" x2="41.80" y2="398.30" stroke="#111" stroke-width="1.5" stroke-linecap="butt"/>
<text x="32.40" y="402.54" font-size="9" text-anchor="end" font-weight="normal" font-style="normal" fill="#222">1.0</text>
<line x1="36.80" y1="364.60" x2="41.80" y2="364.60" stroke="#111" stroke-width="1.5" stroke-linecap="butt"/>
<text x="32.40" y="368.84" font-size="9" text-anchor="end" font-weight="normal" font-style="normal" fill="#222">1.5</text>
<line x1="36.80" y1="330.90" x2="41.80" y2="330.90" stroke="#111" stroke-width="1.5" stroke-linecap="butt"/>
<text x="32.40" y="335.14" font-size="9" text-anchor="end" font-weight="normal" font-style="normal" fill="#222">2.0</text>
<text x="32.40" y="467.94" font-size="9" text-anchor="end" font-weight="normal" font-style="normal" fill="#222">0</text>
<line x1="103.10" y1="465.70" x2="103.10" y2="461.70" stroke="#111" stroke-width="1.5" stroke-linecap="butt"/>
<line x1="169.40" y1="465.70" x2="169.40" y2="461.70" stroke="#111" stroke-width="1.5" stroke-linecap="butt"/>
<line x1="235.70" y1="465.70" x2="235.70" y2="461.70" stroke="#111" stroke-width="1.5" stroke-linecap="butt"/>
<text x="38.30" y="477.64" font-size="9" text-anchor="middle" font-weight="normal" font-style="normal" fill="#222">0</text>
<text x="103.10" y="477.64" font-size="9" text-anchor="middle" font-weight="normal" font-style="normal" fill="#222">10</text>
<text x="169.40" y="477.64" font-size="9" text-anchor="middle" font-weight="normal" font-style="normal" fill="#222">20</text>
<text x="235.70" y="477.64" font-size="9" text-anchor="middle" font-weight="normal" font-style="normal" fill="#222">30</text>
<line x1="136.25" y1="383.90" x2="136.25" y2="411.20" stroke="#333" stroke-width="0.9" stroke-linecap="butt"/>
<line x1="132.50" y1="383.90" x2="140.00" y2="383.90" stroke="#333" stroke-width="0.9" stroke-linecap="butt"/>
<line x1="132.50" y1="411.20" x2="140.00" y2="411.20" stroke="#333" stroke-width="0.9" stroke-linecap="butt"/>
<line x1="162.77" y1="362.00" x2="162.77" y2="394.20" stroke="#333" stroke-width="0.9" stroke-linecap="butt"/>
<line x1="159.02" y1="362.00" x2="166.52" y2="362.00" stroke="#333" stroke-width="0.9" stroke-linecap="butt"/>
<line x1="159.02" y1="394.20" x2="166.52" y2="394.20" stroke="#333" stroke-width="0.9" stroke-linecap="butt"/>
<line x1="189.29" y1="355.40" x2="189.29" y2="387.10" stroke="#333" stroke-width="0.9" stroke-linecap="butt"/>
<line x1="185.54" y1="355.40" x2="193.04" y2="355.40" stroke="#333" stroke-width="0.9" stroke-linecap="butt"/>
<line x1="185.54" y1="387.10" x2="193.04" y2="387.10" stroke="#333" stroke-width="0.9" stroke-linecap="butt"/>
<line x1="185.54" y1="358.70" x2="193.04" y2="358.70" stroke="#333" stroke-width="0.9" stroke-linecap="butt"/>
<line x1="215.81" y1="318.60" x2="215.81" y2="370.70" stroke="#333" stroke-width="0.9" stroke-linecap="butt"/>
<line x1="212.06" y1="318.60" x2="219.56" y2="318.60" stroke="#333" stroke-width="0.9" stroke-linecap="butt"/>
<line x1="212.06" y1="370.70" x2="219.56" y2="370.70" stroke="#333" stroke-width="0.9" stroke-linecap="butt"/>
<line x1="212.06" y1="329.10" x2="219.56" y2="329.10" stroke="#333" stroke-width="0.9" stroke-linecap="butt"/>
<line x1="212.06" y1="364.20" x2="219.56" y2="364.20" stroke="#333" stroke-width="0.9" stroke-linecap="butt"/>
<line x1="215.81" y1="370.70" x2="215.81" y2="406.20" stroke="#333" stroke-width="0.9" stroke-linecap="butt"/>
<line x1="212.06" y1="370.70" x2="219.56" y2="370.70" stroke="#333" stroke-width="0.9" stroke-linecap="butt"/>
<line x1="212.06" y1="406.20" x2="219.56" y2="406.20" stroke="#333" stroke-width="0.9" stroke-linecap="butt"/>
<line x1="136.25" y1="436.00" x2="136.25" y2="446.30" stroke="#333" stroke-width="0.9" stroke-linecap="butt"/>
<line x1="132.50" y1="436.00" x2="140.00" y2="436.00" stroke="#333" stroke-width="0.9" stroke-linecap="butt"/>
<line x1="132.50" y1="446.30" x2="140.00" y2="446.30" stroke="#333" stroke-width="0.9" stroke-linecap="butt"/>
<line x1="162.77" y1="436.00" x2="162.77" y2="445.60" stroke="#333" stroke-width="0.9" stroke-linecap="butt"/>
<line x1="159.02" y1="436.00" x2="166.52" y2="436.00" stroke="#333" stroke-width="0.9" stroke-linecap="butt"/>
<line x1="159.02" y1="445.60" x2="166.52" y2="445.60" stroke="#333" stroke-width="0.9" stroke-linecap="butt"/>
<line x1="189.29" y1="432.50" x2="189.29" y2="443.40" stroke="#333" stroke-width="0.9" stroke-linecap="butt"/>
<line x1="185.54" y1="432.50" x2="193.04" y2="432.50" stroke="#333" stroke-width="0.9" stroke-linecap="butt"/>
<line x1="185.54" y1="443.40" x2="193.04" y2="443.40" stroke="#333" stroke-width="0.9" stroke-linecap="butt"/>
<line x1="189.29" y1="393.70" x2="189.29" y2="404.00" stroke="#333" stroke-width="0.9" stroke-linecap="butt"/>
<line x1="185.54" y1="393.70" x2="193.04" y2="393.70" stroke="#333" stroke-width="0.9" stroke-linecap="butt"/>
<line x1="185.54" y1="404.00" x2="193.04" y2="404.00" stroke="#333" stroke-width="0.9" stroke-linecap="butt"/>
<polyline points="69.95,465.70 103.10,465.70 136.25,432.90 162.77,430.30 189.29,399.00 215.81,356.50" fill="none" stroke="#e8202a" stroke-width="2.0" stroke-dasharray="5.5,3.3" stroke-linejoin="round"/>
<polyline points="69.95,465.70 103.10,465.30 136.25,441.20 162.77,440.10 189.29,437.90 215.81,388.70" fill="none" stroke="#e8202a" stroke-width="2.0" stroke-linejoin="round"/>
<polyline points="69.95,465.70 103.10,425.90 136.25,392.00 162.77,370.70 189.29,364.60 215.81,346.40" fill="none" stroke="#0a2cf5" stroke-width="2.0" stroke-dasharray="5.5,3.3" stroke-linejoin="round"/>
<polyline points="69.95,465.70 103.10,435.80 136.25,400.10 162.77,384.30 189.29,373.40 215.81,339.00" fill="none" stroke="#0a2cf5" stroke-width="2.0" stroke-linejoin="round"/>
<circle cx="69.95" cy="465.70" r="4.15" fill="#ffffff" stroke="#e8202a" stroke-width="1.15"/>
<circle cx="103.10" cy="465.70" r="4.15" fill="#ffffff" stroke="#e8202a" stroke-width="1.15"/>
<circle cx="136.25" cy="432.90" r="4.15" fill="#ffffff" stroke="#e8202a" stroke-width="1.15"/>
<circle cx="162.77" cy="430.30" r="4.15" fill="#ffffff" stroke="#e8202a" stroke-width="1.15"/>
<circle cx="189.29" cy="399.00" r="4.15" fill="#ffffff" stroke="#e8202a" stroke-width="1.15"/>
<circle cx="215.81" cy="356.50" r="4.15" fill="#ffffff" stroke="#e8202a" stroke-width="1.15"/>
<circle cx="69.95" cy="465.70" r="4.5" fill="#e8202a" stroke="#ffffff" stroke-width="0.6"/>
<circle cx="103.10" cy="465.30" r="4.5" fill="#e8202a" stroke="#ffffff" stroke-width="0.6"/>
<circle cx="136.25" cy="441.20" r="4.5" fill="#e8202a" stroke="#ffffff" stroke-width="0.6"/>
<circle cx="162.77" cy="440.10" r="4.5" fill="#e8202a" stroke="#ffffff" stroke-width="0.6"/>
<circle cx="189.29" cy="437.90" r="4.5" fill="#e8202a" stroke="#ffffff" stroke-width="0.6"/>
<circle cx="215.81" cy="388.70" r="4.5" fill="#e8202a" stroke="#ffffff" stroke-width="0.6"/>
<circle cx="69.95" cy="465.70" r="4.15" fill="#ffffff" stroke="#0a2cf5" stroke-width="1.15"/>
<circle cx="103.10" cy="425.90" r="4.15" fill="#ffffff" stroke="#0a2cf5" stroke-width="1.15"/>
<circle cx="136.25" cy="392.00" r="4.15" fill="#ffffff" stroke="#0a2cf5" stroke-width="1.15"/>
<circle cx="162.77" cy="370.70" r="4.15" fill="#ffffff" stroke="#0a2cf5" stroke-width="1.15"/>
<circle cx="189.29" cy="364.60" r="4.15" fill="#ffffff" stroke="#0a2cf5" stroke-width="1.15"/>
<circle cx="215.81" cy="346.40" r="4.15" fill="#ffffff" stroke="#0a2cf5" stroke-width="1.15"/>
<circle cx="69.95" cy="465.70" r="4.5" fill="#0a2cf5" stroke="#ffffff" stroke-width="0.6"/>
<circle cx="103.10" cy="435.80" r="4.5" fill="#0a2cf5" stroke="#ffffff" stroke-width="0.6"/>
<circle cx="136.25" cy="400.10" r="4.5" fill="#0a2cf5" stroke="#ffffff" stroke-width="0.6"/>
<circle cx="162.77" cy="384.30" r="4.5" fill="#0a2cf5" stroke="#ffffff" stroke-width="0.6"/>
<circle cx="189.29" cy="373.40" r="4.5" fill="#0a2cf5" stroke="#ffffff" stroke-width="0.6"/>
<circle cx="215.81" cy="339.00" r="4.5" fill="#0a2cf5" stroke="#ffffff" stroke-width="0.6"/>
<text x="129.00" y="489.14" font-size="9" text-anchor="middle" font-weight="normal" font-style="normal" fill="#222">Days After Tumor Implantation</text>
<text x="13.30" y="398.98" font-size="9.4" text-anchor="middle" font-style="normal" fill="#222" transform="rotate(-90 13.30 395.60)">Tumor Volume (cm<tspan dy="-3.38" font-size="5.6">3</tspan><tspan dy="3.38" font-size="9.4" font-style="normal">)</tspan></text>
<circle cx="52.20" cy="314.00" r="4.9" fill="#0a2cf5" stroke="#ffffff" stroke-width="0.6"/>
<text x="58.80" y="317.95" font-size="9.3" text-anchor="start" font-weight="normal" font-style="normal" fill="#222">H1437</text>
<circle cx="52.20" cy="326.27" r="4.550000000000001" fill="#ffffff" stroke="#0a2cf5" stroke-width="1.15"/>
<text x="58.80" y="330.22" font-size="9.3" fill="#222">H1437<tspan dy="-3.4" font-size="6">CTL</tspan><tspan dy="2.6" font-size="7.8" font-style="italic" dx="1.2">(p=n.s.)</tspan></text>
<circle cx="52.20" cy="338.54" r="4.9" fill="#e8202a" stroke="#ffffff" stroke-width="0.6"/>
<text x="58.80" y="342.49" font-size="9.3" fill="#222">H1437<tspan dy="-3.4" font-size="6">STK11</tspan><tspan dy="2.6" font-size="7.8" font-style="italic" dx="1.2">(p=n.s.)</tspan></text>
<circle cx="52.20" cy="350.81" r="4.550000000000001" fill="#ffffff" stroke="#e8202a" stroke-width="1.15"/>
<text x="58.80" y="354.76" font-size="9.3" fill="#222">H1437<tspan dy="-3.4" font-size="6">STK11</tspan><tspan dy="2.6" font-size="7.8" font-style="italic" dx="1.2">(p=n.s.)</tspan></text>
<text x="249.20" y="314.30" font-size="16.3" font-weight="bold" fill="#111">E</text>
<rect x="312.00" y="424.93" width="18.30" height="43.77" fill="#a5a6a8" stroke="#111" stroke-width="1.6" />
<rect x="341.20" y="389.20" width="18.30" height="79.50" fill="#a5a6a8" stroke="#111" stroke-width="1.6" />
<line x1="350.30" y1="373.60" x2="350.30" y2="388.80" stroke="#111" stroke-width="1.0" stroke-linecap="butt"/>
<line x1="347.05" y1="373.60" x2="353.55" y2="373.60" stroke="#111" stroke-width="1.0" stroke-linecap="butt"/>
<line x1="347.05" y1="388.80" x2="353.55" y2="388.80" stroke="#111" stroke-width="1.0" stroke-linecap="butt"/>
<line x1="319.50" y1="423.80" x2="319.50" y2="429.60" stroke="#111" stroke-width="0.9" stroke-linecap="butt"/>
<line x1="317.00" y1="423.80" x2="322.00" y2="423.80" stroke="#111" stroke-width="0.9" stroke-linecap="butt"/>
<line x1="317.00" y1="429.60" x2="322.00" y2="429.60" stroke="#111" stroke-width="0.9" stroke-linecap="butt"/>
<circle cx="320.90" cy="416.10" r="4.3" fill="#0a2cf5" stroke="#ffffff" stroke-width="0.6"/>
<circle cx="326.80" cy="415.20" r="4.3" fill="#0a2cf5" stroke="#ffffff" stroke-width="0.6"/>
<circle cx="315.50" cy="422.60" r="4.3" fill="#0a2cf5" stroke="#ffffff" stroke-width="0.6"/>
<circle cx="326.80" cy="423.30" r="4.3" fill="#0a2cf5" stroke="#ffffff" stroke-width="0.6"/>
<circle cx="323.70" cy="433.80" r="4.3" fill="#0a2cf5" stroke="#ffffff" stroke-width="0.6"/>
<circle cx="318.40" cy="439.70" r="4.3" fill="#0a2cf5" stroke="#ffffff" stroke-width="0.6"/>
<circle cx="350.10" cy="329.90" r="3.9499999999999997" fill="#ffffff" stroke="#0a2cf5" stroke-width="1.15"/>
<circle cx="350.10" cy="352.10" r="3.9499999999999997" fill="#ffffff" stroke="#0a2cf5" stroke-width="1.15"/>
<circle cx="356.40" cy="401.10" r="3.9499999999999997" fill="#ffffff" stroke="#0a2cf5" stroke-width="1.15"/>
<circle cx="344.70" cy="407.90" r="3.9499999999999997" fill="#ffffff" stroke="#0a2cf5" stroke-width="1.15"/>
<circle cx="344.70" cy="417.50" r="3.9499999999999997" fill="#ffffff" stroke="#0a2cf5" stroke-width="1.15"/>
<circle cx="356.40" cy="417.50" r="3.9499999999999997" fill="#ffffff" stroke="#0a2cf5" stroke-width="1.15"/>
<circle cx="283.30" cy="469.20" r="4.35" fill="#111" stroke="#ffffff" stroke-width="0.6"/>
<circle cx="296.60" cy="469.20" r="4.35" fill="#111" stroke="#ffffff" stroke-width="0.6"/>
<circle cx="288.60" cy="469.00" r="4.35" fill="#111" stroke="#ffffff" stroke-width="0.6"/>
<circle cx="291.60" cy="469.20" r="4.35" fill="#111" stroke="#ffffff" stroke-width="0.6"/>
<circle cx="373.00" cy="467.50" r="4.1" fill="#e8202a" stroke="#ffffff" stroke-width="0.6"/>
<circle cx="376.50" cy="463.50" r="4.1" fill="#e8202a" stroke="#ffffff" stroke-width="0.6"/>
<circle cx="380.50" cy="466.00" r="4.1" fill="#e8202a" stroke="#ffffff" stroke-width="0.6"/>
<circle cx="384.50" cy="464.50" r="4.1" fill="#e8202a" stroke="#ffffff" stroke-width="0.6"/>
<circle cx="387.50" cy="468.00" r="4.1" fill="#e8202a" stroke="#ffffff" stroke-width="0.6"/>
<circle cx="378.00" cy="468.50" r="4.1" fill="#e8202a" stroke="#ffffff" stroke-width="0.6"/>
<circle cx="404.50" cy="465.50" r="3.7499999999999996" fill="#ffffff" stroke="#e8202a" stroke-width="1.15"/>
<circle cx="408.50" cy="461.50" r="3.7499999999999996" fill="#ffffff" stroke="#e8202a" stroke-width="1.15"/>
<circle cx="412.50" cy="464.00" r="3.7499999999999996" fill="#ffffff" stroke="#e8202a" stroke-width="1.15"/>
<circle cx="416.00" cy="466.00" r="3.7499999999999996" fill="#ffffff" stroke="#e8202a" stroke-width="1.15"/>
<circle cx="408.00" cy="467.50" r="3.7499999999999996" fill="#ffffff" stroke="#e8202a" stroke-width="1.15"/>
<circle cx="414.50" cy="462.50" r="3.7499999999999996" fill="#ffffff" stroke="#e8202a" stroke-width="1.15"/>
<line x1="274.70" y1="315.20" x2="274.70" y2="359.00" stroke="#111" stroke-width="1.2" stroke-linecap="butt"/>
<line x1="274.70" y1="367.50" x2="274.70" y2="469.00" stroke="#111" stroke-width="1.2" stroke-linecap="butt"/>
<line x1="271.00" y1="359.00" x2="278.80" y2="359.00" stroke="#111" stroke-width="1.2" stroke-linecap="butt"/>
<line x1="271.00" y1="367.50" x2="278.80" y2="367.50" stroke="#111" stroke-width="1.2" stroke-linecap="butt"/>
<line x1="274.70" y1="331.30" x2="278.50" y2="331.30" stroke="#111" stroke-width="1.1" stroke-linecap="butt"/>
<text x="269.80" y="335.74" font-size="9" text-anchor="end" font-weight="normal" font-style="normal" fill="#222">20</text>
<line x1="274.70" y1="352.60" x2="278.50" y2="352.60" stroke="#111" stroke-width="1.1" stroke-linecap="butt"/>
<text x="269.80" y="357.04" font-size="9" text-anchor="end" font-weight="normal" font-style="normal" fill="#222">15</text>
<line x1="274.70" y1="433.40" x2="278.50" y2="433.40" stroke="#111" stroke-width="1.1" stroke-linecap="butt"/>
<text x="269.80" y="437.44" font-size="9" text-anchor="end" font-weight="normal" font-style="normal" fill="#222">5</text>
<line x1="274.70" y1="398.10" x2="278.50" y2="398.10" stroke="#111" stroke-width="1.1" stroke-linecap="butt"/>
<text x="269.80" y="402.14" font-size="9" text-anchor="end" font-weight="normal" font-style="normal" fill="#222">10</text>
<text x="269.80" y="471.44" font-size="9" text-anchor="end" font-weight="normal" font-style="normal" fill="#222">0</text>
<rect x="274.70" y="469.20" width="149.50" height="25.60" fill="none" stroke="#111" stroke-width="1.3" />
<line x1="274.70" y1="482.40" x2="424.20" y2="482.40" stroke="#111" stroke-width="1.3" stroke-linecap="butt"/>
<line x1="306.10" y1="469.20" x2="306.10" y2="482.40" stroke="#111" stroke-width="1.3" stroke-linecap="butt"/>
<line x1="335.10" y1="469.20" x2="335.10" y2="482.40" stroke="#111" stroke-width="1.3" stroke-linecap="butt"/>
<line x1="364.60" y1="469.20" x2="364.60" y2="482.40" stroke="#111" stroke-width="1.3" stroke-linecap="butt"/>
<line x1="394.30" y1="469.20" x2="394.30" y2="482.40" stroke="#111" stroke-width="1.3" stroke-linecap="butt"/>
<line x1="286.40" y1="475.40" x2="294.80" y2="475.40" stroke="#222" stroke-width="1.4" stroke-linecap="butt"/>
<line x1="316.20" y1="475.40" x2="325.60" y2="475.40" stroke="#222" stroke-width="1.5" stroke-linecap="butt"/>
<line x1="320.90" y1="470.70" x2="320.90" y2="480.10" stroke="#222" stroke-width="1.5" stroke-linecap="butt"/>
<line x1="321.00" y1="469.20" x2="321.00" y2="465.60" stroke="#111" stroke-width="1.1" stroke-linecap="butt"/>
<line x1="350.30" y1="469.20" x2="350.30" y2="465.60" stroke="#111" stroke-width="1.1" stroke-linecap="butt"/>
<line x1="379.60" y1="469.20" x2="379.60" y2="465.60" stroke="#111" stroke-width="1.1" stroke-linecap="butt"/>
<line x1="409.40" y1="469.20" x2="409.40" y2="465.60" stroke="#111" stroke-width="1.1" stroke-linecap="butt"/>
<text x="349.60" y="478.02" font-size="7" text-anchor="middle" font-weight="normal" font-style="normal" fill="#222">CTL</text>
<text x="379.50" y="478.02" font-size="7" text-anchor="middle" font-weight="normal" font-style="normal" fill="#222">STK11</text>
<text x="409.30" y="478.02" font-size="7" text-anchor="middle" font-weight="normal" font-style="normal" fill="#222">STK11</text>
<text x="349.40" y="491.74" font-size="9" text-anchor="middle" font-weight="normal" font-style="normal" fill="#222">H1437</text>
<line x1="321.40" y1="308.20" x2="409.70" y2="308.20" stroke="#111" stroke-width="1.1" stroke-linecap="butt"/>
<text x="365.30" y="305.41" font-size="7.8" text-anchor="middle" font-weight="normal" font-style="normal" fill="#222">0.0044</text>
<line x1="321.40" y1="320.60" x2="350.10" y2="320.60" stroke="#111" stroke-width="1.1" stroke-linecap="butt"/>
<text x="335.40" y="318.41" font-size="7.8" text-anchor="middle" font-weight="normal" font-style="normal" fill="#222">0.0041</text>
<line x1="291.00" y1="402.80" x2="320.90" y2="402.80" stroke="#111" stroke-width="1.1" stroke-linecap="butt"/>
<text x="305.50" y="401.11" font-size="7.8" text-anchor="middle" font-weight="normal" font-style="normal" fill="#222">0.0007</text>
<text x="252.00" y="405.32" font-size="9.5" text-anchor="middle" font-weight="normal" font-style="normal" fill="#222" transform="rotate(-90 252.00 401.90)">Serum Human GDF15 (ng/ml)</text>
<text x="447.20" y="314.50" font-size="16.3" font-weight="bold" fill="#111">F</text>
<line x1="477.80" y1="368.50" x2="508.30" y2="368.50" stroke="#111" stroke-width="1.8" stroke-linecap="butt"/>
<line x1="511.60" y1="371.90" x2="542.70" y2="371.90" stroke="#111" stroke-width="1.8" stroke-linecap="butt"/>
<line x1="546.30" y1="388.00" x2="576.80" y2="388.00" stroke="#111" stroke-width="1.8" stroke-linecap="butt"/>
<line x1="579.60" y1="370.80" x2="610.10" y2="370.80" stroke="#111" stroke-width="1.8" stroke-linecap="butt"/>
<line x1="613.70" y1="360.20" x2="644.20" y2="360.20" stroke="#111" stroke-width="1.8" stroke-linecap="butt"/>
<circle cx="486.54" cy="353.29" r="4.0" fill="#111" stroke="#ffffff" stroke-width="0.6"/>
<circle cx="488.75" cy="387.51" r="4.0" fill="#111" stroke="#ffffff" stroke-width="0.6"/>
<circle cx="495.83" cy="366.80" r="4.0" fill="#111" stroke="#ffffff" stroke-width="0.6"/>
<circle cx="487.90" cy="381.47" r="4.0" fill="#111" stroke="#ffffff" stroke-width="0.6"/>
<circle cx="489.63" cy="369.51" r="4.0" fill="#111" stroke="#ffffff" stroke-width="0.6"/>
<circle cx="486.06" cy="377.36" r="4.0" fill="#111" stroke="#ffffff" stroke-width="0.6"/>
<circle cx="488.24" cy="365.31" r="4.0" fill="#111" stroke="#ffffff" stroke-width="0.6"/>
<circle cx="492.34" cy="378.32" r="4.0" fill="#111" stroke="#ffffff" stroke-width="0.6"/>
<circle cx="488.60" cy="360.42" r="4.0" fill="#111" stroke="#ffffff" stroke-width="0.6"/>
<circle cx="492.72" cy="364.05" r="4.0" fill="#111" stroke="#ffffff" stroke-width="0.6"/>
<circle cx="494.02" cy="353.29" r="4.0" fill="#111" stroke="#ffffff" stroke-width="0.6"/>
<circle cx="499.70" cy="362.74" r="4.0" fill="#111" stroke="#ffffff" stroke-width="0.6"/>
<circle cx="495.90" cy="361.35" r="4.0" fill="#111" stroke="#ffffff" stroke-width="0.6"/>
<circle cx="499.69" cy="370.97" r="4.0" fill="#111" stroke="#ffffff" stroke-width="0.6"/>
<circle cx="496.20" cy="373.71" r="4.0" fill="#111" stroke="#ffffff" stroke-width="0.6"/>
<circle cx="499.51" cy="355.18" r="4.0" fill="#111" stroke="#ffffff" stroke-width="0.6"/>
<circle cx="499.41" cy="367.00" r="4.0" fill="#111" stroke="#ffffff" stroke-width="0.6"/>
<circle cx="486.19" cy="363.47" r="4.0" fill="#111" stroke="#ffffff" stroke-width="0.6"/>
<circle cx="490.87" cy="365.59" r="4.0" fill="#111" stroke="#ffffff" stroke-width="0.6"/>
<circle cx="491.52" cy="361.34" r="4.0" fill="#111" stroke="#ffffff" stroke-width="0.6"/>
<circle cx="494.35" cy="383.58" r="4.0" fill="#111" stroke="#ffffff" stroke-width="0.6"/>
<circle cx="499.36" cy="383.83" r="4.0" fill="#111" stroke="#ffffff" stroke-width="0.6"/>
<circle cx="497.24" cy="363.40" r="4.0" fill="#111" stroke="#ffffff" stroke-width="0.6"/>
<circle cx="490.43" cy="353.29" r="4.0" fill="#111" stroke="#ffffff" stroke-width="0.6"/>
<circle cx="491.57" cy="385.42" r="4.0" fill="#111" stroke="#ffffff" stroke-width="0.6"/>
<circle cx="489.56" cy="374.64" r="4.0" fill="#111" stroke="#ffffff" stroke-width="0.6"/>
<circle cx="493.40" cy="366.45" r="4.0" fill="#111" stroke="#ffffff" stroke-width="0.6"/>
<circle cx="486.26" cy="373.00" r="4.0" fill="#111" stroke="#ffffff" stroke-width="0.6"/>
<circle cx="492.94" cy="371.06" r="4.0" fill="#111" stroke="#ffffff" stroke-width="0.6"/>
<circle cx="488.73" cy="371.96" r="4.0" fill="#111" stroke="#ffffff" stroke-width="0.6"/>
<circle cx="526.90" cy="332.50" r="4.0" fill="#0a2cf5" stroke="#ffffff" stroke-width="0.6"/>
<circle cx="522.20" cy="348.73" r="4.0" fill="#0a2cf5" stroke="#ffffff" stroke-width="0.6"/>
<circle cx="528.20" cy="350.25" r="4.0" fill="#0a2cf5" stroke="#ffffff" stroke-width="0.6"/>
<circle cx="530.70" cy="352.78" r="4.0" fill="#0a2cf5" stroke="#ffffff" stroke-width="0.6"/>
<circle cx="525.70" cy="355.82" r="4.0" fill="#0a2cf5" stroke="#ffffff" stroke-width="0.6"/>
<circle cx="519.77" cy="355.82" r="4.0" fill="#0a2cf5" stroke="#ffffff" stroke-width="0.6"/>
<circle cx="523.91" cy="395.12" r="4.0" fill="#0a2cf5" stroke="#ffffff" stroke-width="0.6"/>
<circle cx="518.76" cy="347.02" r="4.0" fill="#0a2cf5" stroke="#ffffff" stroke-width="0.6"/>
<circle cx="523.22" cy="377.91" r="4.0" fill="#0a2cf5" stroke="#ffffff" stroke-width="0.6"/>
<circle cx="530.74" cy="388.78" r="4.0" fill="#0a2cf5" stroke="#ffffff" stroke-width="0.6"/>
<circle cx="529.80" cy="368.85" r="4.0" fill="#0a2cf5" stroke="#ffffff" stroke-width="0.6"/>
<circle cx="520.93" cy="370.52" r="4.0" fill="#0a2cf5" stroke="#ffffff" stroke-width="0.6"/>
<circle cx="527.77" cy="364.43" r="4.0" fill="#0a2cf5" stroke="#ffffff" stroke-width="0.6"/>
<circle cx="529.82" cy="376.50" r="4.0" fill="#0a2cf5" stroke="#ffffff" stroke-width="0.6"/>
<circle cx="530.75" cy="355.30" r="4.0" fill="#0a2cf5" stroke="#ffffff" stroke-width="0.6"/>
<circle cx="519.19" cy="365.19" r="4.0" fill="#0a2cf5" stroke="#ffffff" stroke-width="0.6"/>
<circle cx="527.91" cy="342.78" r="4.0" fill="#0a2cf5" stroke="#ffffff" stroke-width="0.6"/>
<circle cx="532.99" cy="365.54" r="4.0" fill="#0a2cf5" stroke="#ffffff" stroke-width="0.6"/>
<circle cx="525.28" cy="369.10" r="4.0" fill="#0a2cf5" stroke="#ffffff" stroke-width="0.6"/>
<circle cx="525.40" cy="355.72" r="4.0" fill="#0a2cf5" stroke="#ffffff" stroke-width="0.6"/>
<circle cx="522.73" cy="361.94" r="4.0" fill="#0a2cf5" stroke="#ffffff" stroke-width="0.6"/>
<circle cx="528.17" cy="380.92" r="4.0" fill="#0a2cf5" stroke="#ffffff" stroke-width="0.6"/>
<circle cx="531.04" cy="362.72" r="4.0" fill="#0a2cf5" stroke="#ffffff" stroke-width="0.6"/>
<circle cx="533.79" cy="379.77" r="4.0" fill="#0a2cf5" stroke="#ffffff" stroke-width="0.6"/>
<circle cx="534.33" cy="357.87" r="4.0" fill="#0a2cf5" stroke="#ffffff" stroke-width="0.6"/>
<circle cx="518.78" cy="378.72" r="4.0" fill="#0a2cf5" stroke="#ffffff" stroke-width="0.6"/>
<circle cx="522.51" cy="367.88" r="4.0" fill="#0a2cf5" stroke="#ffffff" stroke-width="0.6"/>
<circle cx="524.73" cy="381.10" r="4.0" fill="#0a2cf5" stroke="#ffffff" stroke-width="0.6"/>
<circle cx="518.71" cy="368.17" r="4.0" fill="#0a2cf5" stroke="#ffffff" stroke-width="0.6"/>
<circle cx="522.58" cy="356.00" r="4.0" fill="#0a2cf5" stroke="#ffffff" stroke-width="0.6"/>
<circle cx="528.21" cy="358.68" r="4.0" fill="#0a2cf5" stroke="#ffffff" stroke-width="0.6"/>
<circle cx="530.71" cy="379.47" r="4.0" fill="#0a2cf5" stroke="#ffffff" stroke-width="0.6"/>
<circle cx="526.11" cy="387.57" r="4.0" fill="#0a2cf5" stroke="#ffffff" stroke-width="0.6"/>
<circle cx="524.88" cy="363.85" r="4.0" fill="#0a2cf5" stroke="#ffffff" stroke-width="0.6"/>
<circle cx="522.12" cy="380.00" r="4.0" fill="#0a2cf5" stroke="#ffffff" stroke-width="0.6"/>
<circle cx="519.59" cy="380.99" r="4.0" fill="#0a2cf5" stroke="#ffffff" stroke-width="0.6"/>
<circle cx="521.56" cy="364.07" r="4.0" fill="#0a2cf5" stroke="#ffffff" stroke-width="0.6"/>
<circle cx="560.20" cy="362.16" r="3.65" fill="#ffffff" stroke="#0a2cf5" stroke-width="1.15"/>
<circle cx="565.65" cy="368.50" r="3.65" fill="#ffffff" stroke="#0a2cf5" stroke-width="1.15"/>
<circle cx="563.51" cy="409.06" r="3.65" fill="#ffffff" stroke="#0a2cf5" stroke-width="1.15"/>
<circle cx="559.27" cy="380.65" r="3.65" fill="#ffffff" stroke="#0a2cf5" stroke-width="1.15"/>
<circle cx="555.47" cy="374.06" r="3.65" fill="#ffffff" stroke="#0a2cf5" stroke-width="1.15"/>
<circle cx="564.08" cy="396.95" r="3.65" fill="#ffffff" stroke="#0a2cf5" stroke-width="1.15"/>
<circle cx="569.35" cy="395.35" r="3.65" fill="#ffffff" stroke="#0a2cf5" stroke-width="1.15"/>
<circle cx="559.60" cy="398.96" r="3.65" fill="#ffffff" stroke="#0a2cf5" stroke-width="1.15"/>
<circle cx="552.55" cy="398.04" r="3.65" fill="#ffffff" stroke="#0a2cf5" stroke-width="1.15"/>
<circle cx="561.40" cy="376.17" r="3.65" fill="#ffffff" stroke="#0a2cf5" stroke-width="1.15"/>
<circle cx="555.53" cy="385.27" r="3.65" fill="#ffffff" stroke="#0a2cf5" stroke-width="1.15"/>
<circle cx="567.31" cy="398.20" r="3.65" fill="#ffffff" stroke="#0a2cf5" stroke-width="1.15"/>
<circle cx="556.26" cy="397.59" r="3.65" fill="#ffffff" stroke="#0a2cf5" stroke-width="1.15"/>
<circle cx="569.13" cy="376.17" r="3.65" fill="#ffffff" stroke="#0a2cf5" stroke-width="1.15"/>
<circle cx="563.60" cy="400.71" r="3.65" fill="#ffffff" stroke="#0a2cf5" stroke-width="1.15"/>
<circle cx="560.31" cy="394.25" r="3.65" fill="#ffffff" stroke="#0a2cf5" stroke-width="1.15"/>
<circle cx="565.51" cy="383.45" r="3.65" fill="#ffffff" stroke="#0a2cf5" stroke-width="1.15"/>
<circle cx="552.25" cy="375.32" r="3.65" fill="#ffffff" stroke="#0a2cf5" stroke-width="1.15"/>
<circle cx="565.84" cy="374.79" r="3.65" fill="#ffffff" stroke="#0a2cf5" stroke-width="1.15"/>
<circle cx="552.29" cy="394.17" r="3.65" fill="#ffffff" stroke="#0a2cf5" stroke-width="1.15"/>
<circle cx="554.41" cy="402.35" r="3.65" fill="#ffffff" stroke="#0a2cf5" stroke-width="1.15"/>
<circle cx="557.01" cy="400.50" r="3.65" fill="#ffffff" stroke="#0a2cf5" stroke-width="1.15"/>
<circle cx="561.35" cy="384.29" r="3.65" fill="#ffffff" stroke="#0a2cf5" stroke-width="1.15"/>
<circle cx="595.40" cy="334.28" r="4.0" fill="#e8202a" stroke="#ffffff" stroke-width="0.6"/>
<circle cx="595.40" cy="338.84" r="4.0" fill="#e8202a" stroke="#ffffff" stroke-width="0.6"/>
<circle cx="587.33" cy="353.29" r="4.0" fill="#e8202a" stroke="#ffffff" stroke-width="0.6"/>
<circle cx="600.86" cy="391.31" r="4.0" fill="#e8202a" stroke="#ffffff" stroke-width="0.6"/>
<circle cx="596.51" cy="374.65" r="4.0" fill="#e8202a" stroke="#ffffff" stroke-width="0.6"/>
<circle cx="589.53" cy="389.27" r="4.0" fill="#e8202a" stroke="#ffffff" stroke-width="0.6"/>
<circle cx="599.73" cy="370.03" r="4.0" fill="#e8202a" stroke="#ffffff" stroke-width="0.6"/>
<circle cx="596.40" cy="366.55" r="4.0" fill="#e8202a" stroke="#ffffff" stroke-width="0.6"/>
<circle cx="591.89" cy="375.68" r="4.0" fill="#e8202a" stroke="#ffffff" stroke-width="0.6"/>
<circle cx="587.43" cy="374.53" r="4.0" fill="#e8202a" stroke="#ffffff" stroke-width="0.6"/>
<circle cx="595.72" cy="388.72" r="4.0" fill="#e8202a" stroke="#ffffff" stroke-width="0.6"/>
<circle cx="603.54" cy="354.88" r="4.0" fill="#e8202a" stroke="#ffffff" stroke-width="0.6"/>
<circle cx="592.01" cy="367.05" r="4.0" fill="#e8202a" stroke="#ffffff" stroke-width="0.6"/>
<circle cx="601.35" cy="375.16" r="4.0" fill="#e8202a" stroke="#ffffff" stroke-width="0.6"/>
<circle cx="586.91" cy="364.00" r="4.0" fill="#e8202a" stroke="#ffffff" stroke-width="0.6"/>
<circle cx="602.72" cy="367.04" r="4.0" fill="#e8202a" stroke="#ffffff" stroke-width="0.6"/>
<circle cx="586.10" cy="369.83" r="4.0" fill="#e8202a" stroke="#ffffff" stroke-width="0.6"/>
<circle cx="603.66" cy="373.29" r="4.0" fill="#e8202a" stroke="#ffffff" stroke-width="0.6"/>
<circle cx="595.41" cy="370.19" r="4.0" fill="#e8202a" stroke="#ffffff" stroke-width="0.6"/>
<circle cx="599.50" cy="365.67" r="4.0" fill="#e8202a" stroke="#ffffff" stroke-width="0.6"/>
<circle cx="602.54" cy="361.38" r="4.0" fill="#e8202a" stroke="#ffffff" stroke-width="0.6"/>
<circle cx="593.84" cy="361.05" r="4.0" fill="#e8202a" stroke="#ffffff" stroke-width="0.6"/>
<circle cx="588.64" cy="366.28" r="4.0" fill="#e8202a" stroke="#ffffff" stroke-width="0.6"/>
<circle cx="589.69" cy="360.34" r="4.0" fill="#e8202a" stroke="#ffffff" stroke-width="0.6"/>
<circle cx="593.80" cy="372.96" r="4.0" fill="#e8202a" stroke="#ffffff" stroke-width="0.6"/>
<circle cx="585.93" cy="389.21" r="4.0" fill="#e8202a" stroke="#ffffff" stroke-width="0.6"/>
<circle cx="603.53" cy="388.28" r="4.0" fill="#e8202a" stroke="#ffffff" stroke-width="0.6"/>
<circle cx="598.35" cy="360.84" r="4.0" fill="#e8202a" stroke="#ffffff" stroke-width="0.6"/>
<circle cx="597.90" cy="390.22" r="4.0" fill="#e8202a" stroke="#ffffff" stroke-width="0.6"/>
<circle cx="593.83" cy="380.44" r="4.0" fill="#e8202a" stroke="#ffffff" stroke-width="0.6"/>
<circle cx="590.52" cy="370.96" r="4.0" fill="#e8202a" stroke="#ffffff" stroke-width="0.6"/>
<circle cx="586.22" cy="360.09" r="4.0" fill="#e8202a" stroke="#ffffff" stroke-width="0.6"/>
<circle cx="592.66" cy="391.31" r="4.0" fill="#e8202a" stroke="#ffffff" stroke-width="0.6"/>
<circle cx="589.02" cy="384.36" r="4.0" fill="#e8202a" stroke="#ffffff" stroke-width="0.6"/>
<circle cx="585.82" cy="380.56" r="4.0" fill="#e8202a" stroke="#ffffff" stroke-width="0.6"/>
<circle cx="602.60" cy="379.80" r="4.0" fill="#e8202a" stroke="#ffffff" stroke-width="0.6"/>
<circle cx="602.42" cy="371.09" r="4.0" fill="#e8202a" stroke="#ffffff" stroke-width="0.6"/>
<circle cx="591.68" cy="361.76" r="4.0" fill="#e8202a" stroke="#ffffff" stroke-width="0.6"/>
<circle cx="629.50" cy="329.21" r="3.65" fill="#ffffff" stroke="#e8202a" stroke-width="1.15"/>
<circle cx="627.14" cy="338.08" r="3.65" fill="#ffffff" stroke="#e8202a" stroke-width="1.15"/>
<circle cx="620.91" cy="379.91" r="3.65" fill="#ffffff" stroke="#e8202a" stroke-width="1.15"/>
<circle cx="630.88" cy="360.56" r="3.65" fill="#ffffff" stroke="#e8202a" stroke-width="1.15"/>
<circle cx="621.85" cy="367.77" r="3.65" fill="#ffffff" stroke="#e8202a" stroke-width="1.15"/>
<circle cx="628.84" cy="368.38" r="3.65" fill="#ffffff" stroke="#e8202a" stroke-width="1.15"/>
<circle cx="625.84" cy="343.85" r="3.65" fill="#ffffff" stroke="#e8202a" stroke-width="1.15"/>
<circle cx="622.36" cy="358.90" r="3.65" fill="#ffffff" stroke="#e8202a" stroke-width="1.15"/>
<circle cx="638.55" cy="361.59" r="3.65" fill="#ffffff" stroke="#e8202a" stroke-width="1.15"/>
<circle cx="620.65" cy="347.51" r="3.65" fill="#ffffff" stroke="#e8202a" stroke-width="1.15"/>
<circle cx="620.56" cy="338.63" r="3.65" fill="#ffffff" stroke="#e8202a" stroke-width="1.15"/>
<circle cx="632.69" cy="347.36" r="3.65" fill="#ffffff" stroke="#e8202a" stroke-width="1.15"/>
<circle cx="638.88" cy="348.37" r="3.65" fill="#ffffff" stroke="#e8202a" stroke-width="1.15"/>
<circle cx="636.43" cy="367.52" r="3.65" fill="#ffffff" stroke="#e8202a" stroke-width="1.15"/>
<circle cx="635.88" cy="345.22" r="3.65" fill="#ffffff" stroke="#e8202a" stroke-width="1.15"/>
<circle cx="627.10" cy="349.86" r="3.65" fill="#ffffff" stroke="#e8202a" stroke-width="1.15"/>
<circle cx="633.58" cy="371.09" r="3.65" fill="#ffffff" stroke="#e8202a" stroke-width="1.15"/>
<circle cx="632.98" cy="367.43" r="3.65" fill="#ffffff" stroke="#e8202a" stroke-width="1.15"/>
<circle cx="622.78" cy="353.27" r="3.65" fill="#ffffff" stroke="#e8202a" stroke-width="1.15"/>
<circle cx="638.94" cy="371.23" r="3.65" fill="#ffffff" stroke="#e8202a" stroke-width="1.15"/>
<circle cx="624.99" cy="370.72" r="3.65" fill="#ffffff" stroke="#e8202a" stroke-width="1.15"/>
<circle cx="636.25" cy="370.40" r="3.65" fill="#ffffff" stroke="#e8202a" stroke-width="1.15"/>
<circle cx="637.66" cy="352.75" r="3.65" fill="#ffffff" stroke="#e8202a" stroke-width="1.15"/>
<circle cx="639.12" cy="368.22" r="3.65" fill="#ffffff" stroke="#e8202a" stroke-width="1.15"/>
<circle cx="626.27" cy="361.62" r="3.65" fill="#ffffff" stroke="#e8202a" stroke-width="1.15"/>
<circle cx="631.65" cy="353.31" r="3.65" fill="#ffffff" stroke="#e8202a" stroke-width="1.15"/>
<circle cx="628.90" cy="346.25" r="3.65" fill="#ffffff" stroke="#e8202a" stroke-width="1.15"/>
<circle cx="624.50" cy="347.19" r="3.65" fill="#ffffff" stroke="#e8202a" stroke-width="1.15"/>
<circle cx="634.28" cy="350.56" r="3.65" fill="#ffffff" stroke="#e8202a" stroke-width="1.15"/>
<line x1="471.20" y1="317.50" x2="471.20" y2="470.50" stroke="#111" stroke-width="1.6" stroke-linecap="butt"/>
<line x1="471.20" y1="469.90" x2="475.60" y2="469.90" stroke="#111" stroke-width="1.2" stroke-linecap="butt"/>
<text x="468.40" y="473.67" font-size="8.8" text-anchor="end" font-weight="normal" font-style="normal" fill="#222">0</text>
<line x1="471.20" y1="444.55" x2="475.60" y2="444.55" stroke="#111" stroke-width="1.2" stroke-linecap="butt"/>
<text x="468.40" y="448.02" font-size="8.8" text-anchor="end" font-weight="normal" font-style="normal" fill="#222">1</text>
<line x1="471.20" y1="419.20" x2="475.60" y2="419.20" stroke="#111" stroke-width="1.2" stroke-linecap="butt"/>
<text x="468.40" y="422.67" font-size="8.8" text-anchor="end" font-weight="normal" font-style="normal" fill="#222">2</text>
<line x1="471.20" y1="393.85" x2="475.60" y2="393.85" stroke="#111" stroke-width="1.2" stroke-linecap="butt"/>
<text x="468.40" y="397.32" font-size="8.8" text-anchor="end" font-weight="normal" font-style="normal" fill="#222">3</text>
<line x1="471.20" y1="368.50" x2="475.60" y2="368.50" stroke="#111" stroke-width="1.2" stroke-linecap="butt"/>
<text x="468.40" y="371.97" font-size="8.8" text-anchor="end" font-weight="normal" font-style="normal" fill="#222">4</text>
<line x1="471.20" y1="343.15" x2="475.60" y2="343.15" stroke="#111" stroke-width="1.2" stroke-linecap="butt"/>
<text x="468.40" y="346.62" font-size="8.8" text-anchor="end" font-weight="normal" font-style="normal" fill="#222">5</text>
<line x1="471.20" y1="317.80" x2="475.60" y2="317.80" stroke="#111" stroke-width="1.2" stroke-linecap="butt"/>
<text x="468.40" y="321.27" font-size="8.8" text-anchor="end" font-weight="normal" font-style="normal" fill="#222">6</text>
<rect x="471.20" y="470.10" width="177.70" height="26.50" fill="none" stroke="#111" stroke-width="1.4" />
<line x1="471.20" y1="483.50" x2="648.90" y2="483.50" stroke="#111" stroke-width="1.4" stroke-linecap="butt"/>
<line x1="510.00" y1="469.90" x2="510.00" y2="483.70" stroke="#111" stroke-width="1.3" stroke-linecap="butt"/>
<line x1="544.40" y1="469.90" x2="544.40" y2="483.70" stroke="#111" stroke-width="1.3" stroke-linecap="butt"/>
<line x1="578.30" y1="469.90" x2="578.30" y2="483.70" stroke="#111" stroke-width="1.3" stroke-linecap="butt"/>
<line x1="611.80" y1="469.90" x2="611.80" y2="483.70" stroke="#111" stroke-width="1.3" stroke-linecap="butt"/>
<line x1="492.90" y1="469.90" x2="492.90" y2="466.20" stroke="#111" stroke-width="1.1" stroke-linecap="butt"/>
<line x1="526.70" y1="469.90" x2="526.70" y2="466.20" stroke="#111" stroke-width="1.1" stroke-linecap="butt"/>
<line x1="560.90" y1="469.90" x2="560.90" y2="466.20" stroke="#111" stroke-width="1.1" stroke-linecap="butt"/>
<line x1="594.70" y1="469.90" x2="594.70" y2="466.20" stroke="#111" stroke-width="1.1" stroke-linecap="butt"/>
<line x1="629.20" y1="469.90" x2="629.20" y2="466.20" stroke="#111" stroke-width="1.1" stroke-linecap="butt"/>
<line x1="487.80" y1="476.90" x2="497.10" y2="476.90" stroke="#222" stroke-width="1.6" stroke-linecap="butt"/>
<line x1="522.20" y1="476.90" x2="531.80" y2="476.90" stroke="#222" stroke-width="1.6" stroke-linecap="butt"/>
<line x1="527.00" y1="472.10" x2="527.00" y2="481.70" stroke="#222" stroke-width="1.6" stroke-linecap="butt"/>
<text x="560.90" y="479.52" font-size="7" text-anchor="middle" font-weight="normal" font-style="normal" fill="#222">CTL</text>
<text x="594.70" y="479.52" font-size="7" text-anchor="middle" font-weight="normal" font-style="normal" fill="#222">STK11</text>
<text x="629.20" y="479.52" font-size="7" text-anchor="middle" font-weight="normal" font-style="normal" fill="#222">STK11</text>
<text x="561.20" y="493.44" font-size="9" text-anchor="middle" font-weight="normal" font-style="normal" fill="#222">H1437</text>
<line x1="525.00" y1="301.30" x2="629.20" y2="301.30" stroke="#111" stroke-width="1.1" stroke-linecap="butt"/>
<text x="577.30" y="299.01" font-size="7.8" text-anchor="middle" font-weight="normal" font-style="normal" fill="#222">0.0022</text>
<line x1="525.00" y1="313.80" x2="589.10" y2="313.80" stroke="#111" stroke-width="1.1" stroke-linecap="butt"/>
<text x="557.00" y="311.41" font-size="7.8" text-anchor="middle" font-weight="normal" font-style="normal" fill="#222">n.s.</text>
<line x1="491.20" y1="319.40" x2="523.40" y2="319.40" stroke="#111" stroke-width="1.1" stroke-linecap="butt"/>
<text x="507.60" y="316.81" font-size="7.8" text-anchor="middle" font-weight="normal" font-style="normal" fill="#222">n.s.</text>
<line x1="526.70" y1="325.30" x2="558.60" y2="325.30" stroke="#111" stroke-width="1.1" stroke-linecap="butt"/>
<text x="542.00" y="323.01" font-size="7.8" text-anchor="middle" font-weight="normal" font-style="normal" fill="#222">&lt;0.0001</text>
<text x="441.80" y="398.38" font-size="9.4" text-anchor="middle" font-weight="normal" font-style="normal" fill="#222" transform="rotate(-90 441.80 395.00)">Daily Food Intake</text>
<text x="452.60" y="399.58" font-size="9.4" text-anchor="middle" font-weight="normal" font-style="normal" fill="#222" transform="rotate(-90 452.60 396.20)">(grams/mouse/day)</text>
<text x="7.20" y="516.80" font-size="16.3" font-weight="bold" fill="#111">G</text>
<rect x="58.20" y="552.90" width="20.00" height="100.90" fill="#a5a6a8" stroke="#111" stroke-width="1.9" />
<rect x="58.20" y="661.80" width="20.00" height="15.10" fill="#a5a6a8" stroke="#111" stroke-width="1.9" />
<line x1="68.20" y1="676.30" x2="68.20" y2="673.10" stroke="#111" stroke-width="1.1" stroke-linecap="butt"/>
<rect x="87.40" y="604.99" width="20.60" height="48.81" fill="#a5a6a8" stroke="#111" stroke-width="1.9" />
<rect x="87.40" y="661.80" width="20.60" height="15.10" fill="#a5a6a8" stroke="#111" stroke-width="1.9" />
<line x1="97.70" y1="676.30" x2="97.70" y2="673.10" stroke="#111" stroke-width="1.1" stroke-linecap="butt"/>
<rect x="116.40" y="601.64" width="20.80" height="52.16" fill="#a5a6a8" stroke="#111" stroke-width="1.9" />
<rect x="116.40" y="661.80" width="20.80" height="15.10" fill="#a5a6a8" stroke="#111" stroke-width="1.9" />
<line x1="126.80" y1="676.30" x2="126.80" y2="673.10" stroke="#111" stroke-width="1.1" stroke-linecap="butt"/>
<rect x="147.00" y="559.10" width="19.80" height="94.70" fill="#a5a6a8" stroke="#111" stroke-width="1.9" />
<rect x="147.00" y="661.80" width="19.80" height="15.10" fill="#a5a6a8" stroke="#111" stroke-width="1.9" />
<line x1="156.90" y1="676.30" x2="156.90" y2="673.10" stroke="#111" stroke-width="1.1" stroke-linecap="butt"/>
<rect x="175.60" y="576.49" width="20.30" height="77.31" fill="#a5a6a8" stroke="#111" stroke-width="1.9" />
<rect x="175.60" y="661.80" width="20.30" height="15.10" fill="#a5a6a8" stroke="#111" stroke-width="1.9" />
<line x1="185.75" y1="676.30" x2="185.75" y2="673.10" stroke="#111" stroke-width="1.1" stroke-linecap="butt"/>
<line x1="68.70" y1="548.20" x2="68.70" y2="558.10" stroke="#111" stroke-width="1.3" stroke-linecap="butt"/>
<line x1="64.50" y1="548.20" x2="72.90" y2="548.20" stroke="#111" stroke-width="1.3" stroke-linecap="butt"/>
<line x1="64.50" y1="558.10" x2="72.90" y2="558.10" stroke="#111" stroke-width="1.3" stroke-linecap="butt"/>
<line x1="98.00" y1="595.00" x2="98.00" y2="610.00" stroke="#111" stroke-width="1.3" stroke-linecap="butt"/>
<line x1="93.80" y1="595.00" x2="102.20" y2="595.00" stroke="#111" stroke-width="1.3" stroke-linecap="butt"/>
<line x1="93.80" y1="610.00" x2="102.20" y2="610.00" stroke="#111" stroke-width="1.3" stroke-linecap="butt"/>
<line x1="126.80" y1="600.00" x2="126.80" y2="604.00" stroke="#111" stroke-width="1.3" stroke-linecap="butt"/>
<line x1="122.60" y1="600.00" x2="131.00" y2="600.00" stroke="#111" stroke-width="1.3" stroke-linecap="butt"/>
<line x1="122.60" y1="604.00" x2="131.00" y2="604.00" stroke="#111" stroke-width="1.3" stroke-linecap="butt"/>
<line x1="157.00" y1="553.00" x2="157.00" y2="563.00" stroke="#111" stroke-width="1.3" stroke-linecap="butt"/>
<line x1="152.80" y1="553.00" x2="161.20" y2="553.00" stroke="#111" stroke-width="1.3" stroke-linecap="butt"/>
<line x1="152.80" y1="563.00" x2="161.20" y2="563.00" stroke="#111" stroke-width="1.3" stroke-linecap="butt"/>
<line x1="186.00" y1="570.50" x2="186.00" y2="579.00" stroke="#111" stroke-width="1.3" stroke-linecap="butt"/>
<line x1="181.80" y1="570.50" x2="190.20" y2="570.50" stroke="#111" stroke-width="1.3" stroke-linecap="butt"/>
<line x1="181.80" y1="579.00" x2="190.20" y2="579.00" stroke="#111" stroke-width="1.3" stroke-linecap="butt"/>
<circle cx="62.30" cy="533.70" r="4.2" fill="#111" stroke="#ffffff" stroke-width="0.6"/>
<circle cx="74.70" cy="536.10" r="4.2" fill="#111" stroke="#ffffff" stroke-width="0.6"/>
<circle cx="68.70" cy="547.90" r="4.2" fill="#111" stroke="#ffffff" stroke-width="0.6"/>
<circle cx="62.30" cy="560.70" r="4.2" fill="#111" stroke="#ffffff" stroke-width="0.6"/>
<circle cx="74.40" cy="565.00" r="4.2" fill="#111" stroke="#ffffff" stroke-width="0.6"/>
<circle cx="61.80" cy="569.90" r="4.2" fill="#111" stroke="#ffffff" stroke-width="0.6"/>
<circle cx="92.00" cy="579.20" r="4.2" fill="#0a2cf5" stroke="#ffffff" stroke-width="0.6"/>
<circle cx="104.10" cy="578.70" r="4.2" fill="#0a2cf5" stroke="#ffffff" stroke-width="0.6"/>
<circle cx="98.00" cy="600.40" r="4.2" fill="#0a2cf5" stroke="#ffffff" stroke-width="0.6"/>
<circle cx="98.00" cy="609.70" r="4.2" fill="#0a2cf5" stroke="#ffffff" stroke-width="0.6"/>
<circle cx="104.10" cy="622.10" r="4.2" fill="#0a2cf5" stroke="#ffffff" stroke-width="0.6"/>
<circle cx="91.80" cy="629.50" r="4.2" fill="#0a2cf5" stroke="#ffffff" stroke-width="0.6"/>
<circle cx="121.60" cy="593.40" r="3.85" fill="#ffffff" stroke="#0a2cf5" stroke-width="1.15"/>
<circle cx="128.90" cy="593.40" r="3.85" fill="#ffffff" stroke="#0a2cf5" stroke-width="1.15"/>
<circle cx="119.10" cy="603.90" r="3.85" fill="#ffffff" stroke="#0a2cf5" stroke-width="1.15"/>
<circle cx="132.10" cy="602.80" r="3.85" fill="#ffffff" stroke="#0a2cf5" stroke-width="1.15"/>
<circle cx="125.40" cy="598.60" r="3.85" fill="#ffffff" stroke="#0a2cf5" stroke-width="1.15"/>
<circle cx="126.10" cy="607.00" r="3.85" fill="#ffffff" stroke="#0a2cf5" stroke-width="1.15"/>
<circle cx="150.70" cy="549.60" r="4.2" fill="#e8202a" stroke="#ffffff" stroke-width="0.6"/>
<circle cx="156.60" cy="547.80" r="4.2" fill="#e8202a" stroke="#ffffff" stroke-width="0.6"/>
<circle cx="162.90" cy="551.30" r="4.2" fill="#e8202a" stroke="#ffffff" stroke-width="0.6"/>
<circle cx="150.70" cy="557.30" r="4.2" fill="#e8202a" stroke="#ffffff" stroke-width="0.6"/>
<circle cx="157.70" cy="557.30" r="4.2" fill="#e8202a" stroke="#ffffff" stroke-width="0.6"/>
<circle cx="157.70" cy="581.80" r="4.2" fill="#e8202a" stroke="#ffffff" stroke-width="0.6"/>
<circle cx="186.40" cy="560.00" r="3.85" fill="#ffffff" stroke="#e8202a" stroke-width="1.15"/>
<circle cx="179.40" cy="565.30" r="3.85" fill="#ffffff" stroke="#e8202a" stroke-width="1.15"/>
<circle cx="186.40" cy="573.00" r="3.85" fill="#ffffff" stroke="#e8202a" stroke-width="1.15"/>
<circle cx="179.40" cy="583.90" r="3.85" fill="#ffffff" stroke="#e8202a" stroke-width="1.15"/>
<circle cx="185.70" cy="583.90" r="3.85" fill="#ffffff" stroke="#e8202a" stroke-width="1.15"/>
<circle cx="192.00" cy="583.90" r="3.85" fill="#ffffff" stroke="#e8202a" stroke-width="1.15"/>
<line x1="51.80" y1="514.10" x2="51.80" y2="653.80" stroke="#111" stroke-width="1.5" stroke-linecap="butt"/>
<line x1="51.80" y1="661.80" x2="51.80" y2="676.30" stroke="#111" stroke-width="1.5" stroke-linecap="butt"/>
<line x1="48.60" y1="653.80" x2="52.50" y2="653.80" stroke="#111" stroke-width="1.5" stroke-linecap="butt"/>
<line x1="48.60" y1="661.80" x2="52.50" y2="661.80" stroke="#111" stroke-width="1.5" stroke-linecap="butt"/>
<line x1="51.80" y1="514.70" x2="57.00" y2="514.70" stroke="#111" stroke-width="1.4" stroke-linecap="butt"/>
<text x="46.80" y="519.36" font-size="9.6" text-anchor="end" font-weight="normal" font-style="normal" fill="#222">1.2</text>
<line x1="51.80" y1="562.60" x2="57.00" y2="562.60" stroke="#111" stroke-width="1.4" stroke-linecap="butt"/>
<text x="46.80" y="567.26" font-size="9.6" text-anchor="end" font-weight="normal" font-style="normal" fill="#222">1.0</text>
<line x1="51.80" y1="610.50" x2="57.00" y2="610.50" stroke="#111" stroke-width="1.4" stroke-linecap="butt"/>
<text x="46.80" y="615.16" font-size="9.6" text-anchor="end" font-weight="normal" font-style="normal" fill="#222">0.8</text>
<text x="47.40" y="676.56" font-size="9.6" text-anchor="end" font-weight="normal" font-style="normal" fill="#222">0</text>
<rect x="51.80" y="676.30" width="149.90" height="26.90" fill="none" stroke="#111" stroke-width="1.3" />
<line x1="51.80" y1="690.20" x2="201.70" y2="690.20" stroke="#111" stroke-width="1.3" stroke-linecap="butt"/>
<line x1="83.20" y1="676.30" x2="83.20" y2="690.20" stroke="#111" stroke-width="1.3" stroke-linecap="butt"/>
<line x1="112.40" y1="676.30" x2="112.40" y2="690.20" stroke="#111" stroke-width="1.3" stroke-linecap="butt"/>
<line x1="141.20" y1="676.30" x2="141.20" y2="690.20" stroke="#111" stroke-width="1.3" stroke-linecap="butt"/>
<line x1="171.20" y1="676.30" x2="171.20" y2="690.20" stroke="#111" stroke-width="1.3" stroke-linecap="butt"/>
<line x1="63.35" y1="683.25" x2="73.65" y2="683.25" stroke="#222" stroke-width="1.9" stroke-linecap="butt"/>
<line x1="93.05" y1="683.25" x2="103.35" y2="683.25" stroke="#222" stroke-width="1.9" stroke-linecap="butt"/>
<line x1="98.20" y1="678.10" x2="98.20" y2="688.40" stroke="#222" stroke-width="1.9" stroke-linecap="butt"/>
<text x="126.80" y="685.77" font-size="7" text-anchor="middle" font-weight="normal" font-style="normal" fill="#222">CTL</text>
<text x="156.80" y="685.77" font-size="7" text-anchor="middle" font-weight="normal" font-style="normal" fill="#222">STK11</text>
<text x="186.40" y="685.77" font-size="7" text-anchor="middle" font-weight="normal" font-style="normal" fill="#222">STK11</text>
<text x="126.75" y="700.54" font-size="9" text-anchor="middle" font-weight="normal" font-style="normal" fill="#222">H1437</text>
<line x1="69.00" y1="516.60" x2="98.00" y2="516.60" stroke="#111" stroke-width="1.1" stroke-linecap="butt"/>
<text x="83.50" y="514.81" font-size="7.8" text-anchor="middle" font-weight="normal" font-style="normal" fill="#222">&lt;0.0001</text>
<line x1="98.30" y1="525.90" x2="185.70" y2="525.90" stroke="#111" stroke-width="1.1" stroke-linecap="butt"/>
<text x="142.00" y="524.11" font-size="7.8" text-anchor="middle" font-weight="normal" font-style="normal" fill="#222">0.0065</text>
<line x1="98.30" y1="539.80" x2="156.60" y2="539.80" stroke="#111" stroke-width="1.1" stroke-linecap="butt"/>
<text x="127.45" y="538.01" font-size="7.8" text-anchor="middle" font-weight="normal" font-style="normal" fill="#222">&lt;0.0001</text>
<line x1="98.30" y1="556.00" x2="126.80" y2="556.00" stroke="#111" stroke-width="1.1" stroke-linecap="butt"/>
<text x="112.55" y="554.21" font-size="7.8" text-anchor="middle" font-weight="normal" font-style="normal" fill="#222">n.s.</text>
<text x="26.50" y="608.31" font-size="9.2" text-anchor="middle" font-weight="normal" font-style="normal" fill="#222" transform="rotate(-90 26.50 605.00)">Relative Tumor-free Body Weight</text>
<text x="232.30" y="516.60" font-size="16.3" font-weight="bold" fill="#111">H</text>
<line x1="291.20" y1="535.80" x2="291.20" y2="561.50" stroke="#444" stroke-width="0.9" stroke-linecap="butt"/>
<line x1="287.70" y1="535.80" x2="294.70" y2="535.80" stroke="#444" stroke-width="0.9" stroke-linecap="butt"/>
<line x1="287.70" y1="561.50" x2="294.70" y2="561.50" stroke="#444" stroke-width="0.9" stroke-linecap="butt"/>
<line x1="322.60" y1="525.80" x2="322.60" y2="556.20" stroke="#444" stroke-width="0.9" stroke-linecap="butt"/>
<line x1="319.10" y1="525.80" x2="326.10" y2="525.80" stroke="#444" stroke-width="0.9" stroke-linecap="butt"/>
<line x1="319.10" y1="556.20" x2="326.10" y2="556.20" stroke="#444" stroke-width="0.9" stroke-linecap="butt"/>
<line x1="322.60" y1="566.00" x2="322.60" y2="575.00" stroke="#444" stroke-width="0.9" stroke-linecap="butt"/>
<line x1="319.10" y1="566.00" x2="326.10" y2="566.00" stroke="#444" stroke-width="0.9" stroke-linecap="butt"/>
<line x1="319.10" y1="575.00" x2="326.10" y2="575.00" stroke="#444" stroke-width="0.9" stroke-linecap="butt"/>
<line x1="348.40" y1="548.30" x2="348.40" y2="579.40" stroke="#444" stroke-width="0.9" stroke-linecap="butt"/>
<line x1="344.90" y1="548.30" x2="351.90" y2="548.30" stroke="#444" stroke-width="0.9" stroke-linecap="butt"/>
<line x1="344.90" y1="579.40" x2="351.90" y2="579.40" stroke="#444" stroke-width="0.9" stroke-linecap="butt"/>
<line x1="348.40" y1="610.50" x2="348.40" y2="631.10" stroke="#444" stroke-width="0.9" stroke-linecap="butt"/>
<line x1="344.90" y1="610.50" x2="351.90" y2="610.50" stroke="#444" stroke-width="0.9" stroke-linecap="butt"/>
<line x1="344.90" y1="631.10" x2="351.90" y2="631.10" stroke="#444" stroke-width="0.9" stroke-linecap="butt"/>
<line x1="380.60" y1="570.50" x2="380.60" y2="591.90" stroke="#444" stroke-width="0.9" stroke-linecap="butt"/>
<line x1="377.10" y1="570.50" x2="384.10" y2="570.50" stroke="#444" stroke-width="0.9" stroke-linecap="butt"/>
<line x1="377.10" y1="591.90" x2="384.10" y2="591.90" stroke="#444" stroke-width="0.9" stroke-linecap="butt"/>
<line x1="380.60" y1="611.70" x2="380.60" y2="635.70" stroke="#444" stroke-width="0.9" stroke-linecap="butt"/>
<line x1="377.10" y1="611.70" x2="384.10" y2="611.70" stroke="#444" stroke-width="0.9" stroke-linecap="butt"/>
<line x1="377.10" y1="635.70" x2="384.10" y2="635.70" stroke="#444" stroke-width="0.9" stroke-linecap="butt"/>
<line x1="406.30" y1="550.80" x2="406.30" y2="591.90" stroke="#444" stroke-width="0.9" stroke-linecap="butt"/>
<line x1="402.80" y1="550.80" x2="409.80" y2="550.80" stroke="#444" stroke-width="0.9" stroke-linecap="butt"/>
<line x1="402.80" y1="591.90" x2="409.80" y2="591.90" stroke="#444" stroke-width="0.9" stroke-linecap="butt"/>
<line x1="406.30" y1="617.50" x2="406.30" y2="647.90" stroke="#444" stroke-width="0.9" stroke-linecap="butt"/>
<line x1="402.80" y1="617.50" x2="409.80" y2="617.50" stroke="#444" stroke-width="0.9" stroke-linecap="butt"/>
<line x1="402.80" y1="647.90" x2="409.80" y2="647.90" stroke="#444" stroke-width="0.9" stroke-linecap="butt"/>
<line x1="431.70" y1="566.90" x2="431.70" y2="609.80" stroke="#444" stroke-width="0.9" stroke-linecap="butt"/>
<line x1="428.20" y1="566.90" x2="435.20" y2="566.90" stroke="#444" stroke-width="0.9" stroke-linecap="butt"/>
<line x1="428.20" y1="609.80" x2="435.20" y2="609.80" stroke="#444" stroke-width="0.9" stroke-linecap="butt"/>
<line x1="431.70" y1="622.20" x2="431.70" y2="655.60" stroke="#444" stroke-width="0.9" stroke-linecap="butt"/>
<line x1="428.20" y1="622.20" x2="435.20" y2="622.20" stroke="#444" stroke-width="0.9" stroke-linecap="butt"/>
<line x1="428.20" y1="655.60" x2="435.20" y2="655.60" stroke="#444" stroke-width="0.9" stroke-linecap="butt"/>
<line x1="431.70" y1="592.00" x2="431.70" y2="609.30" stroke="#444" stroke-width="0.9" stroke-linecap="butt"/>
<line x1="428.20" y1="592.00" x2="435.20" y2="592.00" stroke="#444" stroke-width="0.9" stroke-linecap="butt"/>
<line x1="428.20" y1="609.30" x2="435.20" y2="609.30" stroke="#444" stroke-width="0.9" stroke-linecap="butt"/>
<polyline points="265.40,553.30 291.20,556.00 322.60,564.00 348.40,575.80 380.60,579.40 406.30,585.90 431.70,578.70" fill="none" stroke="#111" stroke-width="1.9" stroke-linejoin="round"/>
<polyline points="265.40,553.30 291.20,555.50 322.60,570.50 348.40,604.40 380.60,627.70 406.30,641.30 431.70,646.60" fill="none" stroke="#0a2cf5" stroke-width="1.9" stroke-linejoin="round"/>
<polyline points="265.40,553.30 291.20,556.20 322.60,571.50 348.40,620.50 380.60,624.10 406.30,630.20 431.70,634.10" fill="none" stroke="#0a2cf5" stroke-width="1.9" stroke-dasharray="5,3" stroke-linejoin="round"/>
<polyline points="265.40,553.30 291.20,541.90 322.60,542.60 348.40,563.30 380.60,579.40 406.30,566.20 431.70,583.00" fill="none" stroke="#e8202a" stroke-width="1.9" stroke-linejoin="round"/>
<polyline points="265.40,553.30 291.20,547.20 322.60,547.20 348.40,564.00 380.60,580.10 406.30,574.80 431.70,600.20" fill="none" stroke="#e8202a" stroke-width="1.9" stroke-dasharray="5,3" stroke-linejoin="round"/>
<line x1="265.80" y1="517.90" x2="265.80" y2="663.40" stroke="#111" stroke-width="1.5" stroke-linecap="butt"/>
<line x1="265.80" y1="671.00" x2="265.80" y2="676.00" stroke="#111" stroke-width="1.5" stroke-linecap="butt"/>
<line x1="262.70" y1="663.40" x2="268.00" y2="663.40" stroke="#111" stroke-width="1.5" stroke-linecap="butt"/>
<line x1="262.70" y1="671.00" x2="268.00" y2="671.00" stroke="#111" stroke-width="1.5" stroke-linecap="butt"/>
<line x1="265.10" y1="675.60" x2="451.90" y2="675.60" stroke="#111" stroke-width="1.5" stroke-linecap="butt"/>
<line x1="265.80" y1="518.60" x2="269.60" y2="518.60" stroke="#111" stroke-width="1.4" stroke-linecap="butt"/>
<text x="260.90" y="522.98" font-size="9.4" text-anchor="end" font-weight="normal" font-style="normal" fill="#222">1.2</text>
<line x1="265.80" y1="553.30" x2="269.60" y2="553.30" stroke="#111" stroke-width="1.4" stroke-linecap="butt"/>
<text x="260.90" y="557.68" font-size="9.4" text-anchor="end" font-weight="normal" font-style="normal" fill="#222">1.0</text>
<line x1="265.80" y1="588.00" x2="269.60" y2="588.00" stroke="#111" stroke-width="1.4" stroke-linecap="butt"/>
<text x="260.90" y="592.38" font-size="9.4" text-anchor="end" font-weight="normal" font-style="normal" fill="#222">0.8</text>
<line x1="265.80" y1="622.70" x2="269.60" y2="622.70" stroke="#111" stroke-width="1.4" stroke-linecap="butt"/>
<text x="260.90" y="627.08" font-size="9.4" text-anchor="end" font-weight="normal" font-style="normal" fill="#222">0.6</text>
<line x1="265.80" y1="657.40" x2="269.60" y2="657.40" stroke="#111" stroke-width="1.4" stroke-linecap="butt"/>
<text x="260.90" y="661.78" font-size="9.4" text-anchor="end" font-weight="normal" font-style="normal" fill="#222">0.4</text>
<circle cx="265.40" cy="553.30" r="4.4" fill="#111" stroke="#ffffff" stroke-width="0.6"/>
<circle cx="291.20" cy="556.00" r="4.4" fill="#111" stroke="#ffffff" stroke-width="0.6"/>
<circle cx="322.60" cy="564.00" r="4.4" fill="#111" stroke="#ffffff" stroke-width="0.6"/>
<circle cx="348.40" cy="575.80" r="4.4" fill="#111" stroke="#ffffff" stroke-width="0.6"/>
<circle cx="380.60" cy="579.40" r="4.4" fill="#111" stroke="#ffffff" stroke-width="0.6"/>
<circle cx="406.30" cy="585.90" r="4.4" fill="#111" stroke="#ffffff" stroke-width="0.6"/>
<circle cx="431.70" cy="578.70" r="4.4" fill="#111" stroke="#ffffff" stroke-width="0.6"/>
<circle cx="265.40" cy="553.30" r="4.4" fill="#0a2cf5" stroke="#ffffff" stroke-width="0.6"/>
<circle cx="291.20" cy="555.50" r="4.4" fill="#0a2cf5" stroke="#ffffff" stroke-width="0.6"/>
<circle cx="322.60" cy="570.50" r="4.4" fill="#0a2cf5" stroke="#ffffff" stroke-width="0.6"/>
<circle cx="348.40" cy="604.40" r="4.4" fill="#0a2cf5" stroke="#ffffff" stroke-width="0.6"/>
<circle cx="380.60" cy="627.70" r="4.4" fill="#0a2cf5" stroke="#ffffff" stroke-width="0.6"/>
<circle cx="406.30" cy="641.30" r="4.4" fill="#0a2cf5" stroke="#ffffff" stroke-width="0.6"/>
<circle cx="431.70" cy="646.60" r="4.4" fill="#0a2cf5" stroke="#ffffff" stroke-width="0.6"/>
<circle cx="265.40" cy="553.30" r="4.25" fill="#ffffff" stroke="#0a2cf5" stroke-width="1.15"/>
<circle cx="291.20" cy="556.20" r="4.25" fill="#ffffff" stroke="#0a2cf5" stroke-width="1.15"/>
<circle cx="322.60" cy="571.50" r="4.25" fill="#ffffff" stroke="#0a2cf5" stroke-width="1.15"/>
<circle cx="348.40" cy="620.50" r="4.25" fill="#ffffff" stroke="#0a2cf5" stroke-width="1.15"/>
<circle cx="380.60" cy="624.10" r="4.25" fill="#ffffff" stroke="#0a2cf5" stroke-width="1.15"/>
<circle cx="406.30" cy="630.20" r="4.25" fill="#ffffff" stroke="#0a2cf5" stroke-width="1.15"/>
<circle cx="431.70" cy="634.10" r="4.25" fill="#ffffff" stroke="#0a2cf5" stroke-width="1.15"/>
<circle cx="265.40" cy="553.30" r="4.4" fill="#e8202a" stroke="#ffffff" stroke-width="0.6"/>
<circle cx="291.20" cy="541.90" r="4.4" fill="#e8202a" stroke="#ffffff" stroke-width="0.6"/>
<circle cx="322.60" cy="542.60" r="4.4" fill="#e8202a" stroke="#ffffff" stroke-width="0.6"/>
<circle cx="348.40" cy="563.30" r="4.4" fill="#e8202a" stroke="#ffffff" stroke-width="0.6"/>
<circle cx="380.60" cy="579.40" r="4.4" fill="#e8202a" stroke="#ffffff" stroke-width="0.6"/>
<circle cx="406.30" cy="566.20" r="4.4" fill="#e8202a" stroke="#ffffff" stroke-width="0.6"/>
<circle cx="431.70" cy="583.00" r="4.4" fill="#e8202a" stroke="#ffffff" stroke-width="0.6"/>
<circle cx="265.40" cy="553.30" r="4.25" fill="#ffffff" stroke="#e8202a" stroke-width="1.15"/>
<circle cx="291.20" cy="547.20" r="4.25" fill="#ffffff" stroke="#e8202a" stroke-width="1.15"/>
<circle cx="322.60" cy="547.20" r="4.25" fill="#ffffff" stroke="#e8202a" stroke-width="1.15"/>
<circle cx="348.40" cy="564.00" r="4.25" fill="#ffffff" stroke="#e8202a" stroke-width="1.15"/>
<circle cx="380.60" cy="580.10" r="4.25" fill="#ffffff" stroke="#e8202a" stroke-width="1.15"/>
<circle cx="406.30" cy="574.80" r="4.25" fill="#ffffff" stroke="#e8202a" stroke-width="1.15"/>
<circle cx="431.70" cy="600.20" r="4.25" fill="#ffffff" stroke="#e8202a" stroke-width="1.15"/>
<text x="261.80" y="677.38" font-size="9.4" text-anchor="end" font-weight="normal" font-style="normal" fill="#222">0</text>
<line x1="322.90" y1="675.60" x2="322.90" y2="671.60" stroke="#111" stroke-width="1.4" stroke-linecap="butt"/>
<line x1="387.10" y1="675.60" x2="387.10" y2="671.60" stroke="#111" stroke-width="1.4" stroke-linecap="butt"/>
<line x1="451.40" y1="675.60" x2="451.40" y2="671.60" stroke="#111" stroke-width="1.4" stroke-linecap="butt"/>
<text x="266.90" y="687.98" font-size="9.4" text-anchor="middle" font-weight="normal" font-style="normal" fill="#222">0</text>
<text x="322.90" y="687.98" font-size="9.4" text-anchor="middle" font-weight="normal" font-style="normal" fill="#222">10</text>
<text x="387.10" y="687.98" font-size="9.4" text-anchor="middle" font-weight="normal" font-style="normal" fill="#222">20</text>
<text x="451.40" y="687.98" font-size="9.4" text-anchor="middle" font-weight="normal" font-style="normal" fill="#222">30</text>
<text x="286.70" y="697.48" font-size="9.4" text-anchor="start" font-weight="normal" font-style="normal" fill="#222">Days After Tumor Implantation</text>
<text x="242.20" y="603.38" font-size="9.4" text-anchor="middle" font-weight="normal" font-style="normal" fill="#222" transform="rotate(-90 242.20 600.00)">Relative Fat Mass</text>
<circle cx="275.80" cy="618.90" r="4.9" fill="#111" stroke="#ffffff" stroke-width="0.6"/>
<text x="282.80" y="621.90" font-size="9.4" fill="#222">PBS<tspan font-size="7.9" dx="2.5">(p&lt;0.001)</tspan></text>
<circle cx="275.80" cy="631.03" r="4.9" fill="#0a2cf5" stroke="#ffffff" stroke-width="0.6"/>
<text x="282.80" y="634.01" font-size="9.4" text-anchor="start" font-weight="normal" font-style="normal" fill="#222">H1437</text>
<circle cx="275.80" cy="643.16" r="4.550000000000001" fill="#ffffff" stroke="#0a2cf5" stroke-width="1.15"/>
<text x="282.80" y="646.16" font-size="9.4" fill="#222">H1437<tspan dy="-3.4" font-size="6.1">CTL</tspan><tspan dy="2.7" font-size="7.9" font-style="italic" dx="1.2">(p=n.s.)</tspan></text>
<circle cx="275.80" cy="655.29" r="4.9" fill="#e8202a" stroke="#ffffff" stroke-width="0.6"/>
<text x="282.80" y="658.29" font-size="9.4" fill="#222">H1437<tspan dy="-3.4" font-size="6.1">STK11</tspan><tspan dy="2.7" font-size="7.9" font-style="italic" dx="1.2">(p&lt;0.05)</tspan></text>
<circle cx="275.80" cy="667.42" r="4.550000000000001" fill="#ffffff" stroke="#e8202a" stroke-width="1.15"/>
<text x="282.80" y="670.42" font-size="9.4" fill="#222">H1437<tspan dy="-3.4" font-size="6.1">STK11</tspan><tspan dy="2.7" font-size="7.9" font-style="italic" dx="1.2">(p&lt;0.05)</tspan></text>
<text x="458.80" y="516.20" font-size="16.3" font-weight="bold" fill="#111">I</text>
<rect x="511.20" y="554.45" width="19.00" height="99.05" fill="#a5a6a8" stroke="#111" stroke-width="1.9" />
<rect x="511.20" y="661.90" width="19.00" height="14.10" fill="#a5a6a8" stroke="#111" stroke-width="1.9" />
<line x1="520.70" y1="675.40" x2="520.70" y2="672.20" stroke="#111" stroke-width="1.1" stroke-linecap="butt"/>
<rect x="540.00" y="596.40" width="19.60" height="57.10" fill="#a5a6a8" stroke="#111" stroke-width="1.9" />
<rect x="540.00" y="661.90" width="19.60" height="14.10" fill="#a5a6a8" stroke="#111" stroke-width="1.9" />
<line x1="549.80" y1="675.40" x2="549.80" y2="672.20" stroke="#111" stroke-width="1.1" stroke-linecap="butt"/>
<rect x="569.20" y="600.68" width="19.20" height="52.82" fill="#a5a6a8" stroke="#111" stroke-width="1.9" />
<rect x="569.20" y="661.90" width="19.20" height="14.10" fill="#a5a6a8" stroke="#111" stroke-width="1.9" />
<line x1="578.80" y1="675.40" x2="578.80" y2="672.20" stroke="#111" stroke-width="1.1" stroke-linecap="butt"/>
<rect x="599.40" y="572.11" width="19.00" height="81.39" fill="#a5a6a8" stroke="#111" stroke-width="1.9" />
<rect x="599.40" y="661.90" width="19.00" height="14.10" fill="#a5a6a8" stroke="#111" stroke-width="1.9" />
<line x1="608.90" y1="675.40" x2="608.90" y2="672.20" stroke="#111" stroke-width="1.1" stroke-linecap="butt"/>
<rect x="628.60" y="561.73" width="19.00" height="91.77" fill="#a5a6a8" stroke="#111" stroke-width="1.9" />
<rect x="628.60" y="661.90" width="19.00" height="14.10" fill="#a5a6a8" stroke="#111" stroke-width="1.9" />
<line x1="638.10" y1="675.40" x2="638.10" y2="672.20" stroke="#111" stroke-width="1.1" stroke-linecap="butt"/>
<line x1="520.50" y1="547.40" x2="520.50" y2="560.70" stroke="#111" stroke-width="1.3" stroke-linecap="butt"/>
<line x1="516.30" y1="547.40" x2="524.70" y2="547.40" stroke="#111" stroke-width="1.3" stroke-linecap="butt"/>
<line x1="516.30" y1="560.70" x2="524.70" y2="560.70" stroke="#111" stroke-width="1.3" stroke-linecap="butt"/>
<line x1="549.70" y1="587.50" x2="549.70" y2="603.60" stroke="#111" stroke-width="1.3" stroke-linecap="butt"/>
<line x1="545.50" y1="587.50" x2="553.90" y2="587.50" stroke="#111" stroke-width="1.3" stroke-linecap="butt"/>
<line x1="545.50" y1="603.60" x2="553.90" y2="603.60" stroke="#111" stroke-width="1.3" stroke-linecap="butt"/>
<line x1="578.90" y1="598.80" x2="578.90" y2="602.20" stroke="#111" stroke-width="1.3" stroke-linecap="butt"/>
<line x1="574.70" y1="598.80" x2="583.10" y2="598.80" stroke="#111" stroke-width="1.3" stroke-linecap="butt"/>
<line x1="574.70" y1="602.20" x2="583.10" y2="602.20" stroke="#111" stroke-width="1.3" stroke-linecap="butt"/>
<line x1="608.80" y1="569.50" x2="608.80" y2="574.00" stroke="#111" stroke-width="1.3" stroke-linecap="butt"/>
<line x1="604.60" y1="569.50" x2="613.00" y2="569.50" stroke="#111" stroke-width="1.3" stroke-linecap="butt"/>
<line x1="604.60" y1="574.00" x2="613.00" y2="574.00" stroke="#111" stroke-width="1.3" stroke-linecap="butt"/>
<line x1="638.00" y1="553.00" x2="638.00" y2="566.00" stroke="#111" stroke-width="1.3" stroke-linecap="butt"/>
<line x1="633.80" y1="553.00" x2="642.20" y2="553.00" stroke="#111" stroke-width="1.3" stroke-linecap="butt"/>
<line x1="633.80" y1="566.00" x2="642.20" y2="566.00" stroke="#111" stroke-width="1.3" stroke-linecap="butt"/>
<circle cx="514.10" cy="531.30" r="4.5" fill="#111" stroke="#ffffff" stroke-width="0.6"/>
<circle cx="520.80" cy="539.80" r="4.5" fill="#111" stroke="#ffffff" stroke-width="0.6"/>
<circle cx="527.30" cy="553.00" r="4.5" fill="#111" stroke="#ffffff" stroke-width="0.6"/>
<circle cx="520.00" cy="561.00" r="4.5" fill="#111" stroke="#ffffff" stroke-width="0.6"/>
<circle cx="514.10" cy="567.40" r="4.5" fill="#111" stroke="#ffffff" stroke-width="0.6"/>
<circle cx="527.30" cy="565.50" r="4.5" fill="#111" stroke="#ffffff" stroke-width="0.6"/>
<circle cx="543.00" cy="572.30" r="4.5" fill="#0a2cf5" stroke="#ffffff" stroke-width="0.6"/>
<circle cx="556.20" cy="572.30" r="4.5" fill="#0a2cf5" stroke="#ffffff" stroke-width="0.6"/>
<circle cx="543.00" cy="600.40" r="4.5" fill="#0a2cf5" stroke="#ffffff" stroke-width="0.6"/>
<circle cx="556.20" cy="595.60" r="4.5" fill="#0a2cf5" stroke="#ffffff" stroke-width="0.6"/>
<circle cx="543.00" cy="615.60" r="4.5" fill="#0a2cf5" stroke="#ffffff" stroke-width="0.6"/>
<circle cx="556.20" cy="615.60" r="4.5" fill="#0a2cf5" stroke="#ffffff" stroke-width="0.6"/>
<circle cx="573.50" cy="598.60" r="4.15" fill="#ffffff" stroke="#0a2cf5" stroke-width="1.15"/>
<circle cx="578.00" cy="596.50" r="4.15" fill="#ffffff" stroke="#0a2cf5" stroke-width="1.15"/>
<circle cx="582.00" cy="599.50" r="4.15" fill="#ffffff" stroke="#0a2cf5" stroke-width="1.15"/>
<circle cx="586.00" cy="598.00" r="4.15" fill="#ffffff" stroke="#0a2cf5" stroke-width="1.15"/>
<circle cx="576.50" cy="600.50" r="4.15" fill="#ffffff" stroke="#0a2cf5" stroke-width="1.15"/>
<circle cx="580.00" cy="597.00" r="4.15" fill="#ffffff" stroke="#0a2cf5" stroke-width="1.15"/>
<circle cx="601.70" cy="559.50" r="4.5" fill="#e8202a" stroke="#ffffff" stroke-width="0.6"/>
<circle cx="608.80" cy="567.90" r="4.5" fill="#e8202a" stroke="#ffffff" stroke-width="0.6"/>
<circle cx="615.50" cy="565.60" r="4.5" fill="#e8202a" stroke="#ffffff" stroke-width="0.6"/>
<circle cx="601.70" cy="577.30" r="4.5" fill="#e8202a" stroke="#ffffff" stroke-width="0.6"/>
<circle cx="608.80" cy="576.60" r="4.5" fill="#e8202a" stroke="#ffffff" stroke-width="0.6"/>
<circle cx="615.50" cy="578.00" r="4.5" fill="#e8202a" stroke="#ffffff" stroke-width="0.6"/>
<circle cx="630.30" cy="553.80" r="4.15" fill="#ffffff" stroke="#e8202a" stroke-width="1.15"/>
<circle cx="638.00" cy="547.10" r="4.15" fill="#ffffff" stroke="#e8202a" stroke-width="1.15"/>
<circle cx="644.70" cy="546.40" r="4.15" fill="#ffffff" stroke="#e8202a" stroke-width="1.15"/>
<circle cx="644.70" cy="558.80" r="4.15" fill="#ffffff" stroke="#e8202a" stroke-width="1.15"/>
<circle cx="638.00" cy="567.20" r="4.15" fill="#ffffff" stroke="#e8202a" stroke-width="1.15"/>
<circle cx="638.00" cy="587.40" r="4.15" fill="#ffffff" stroke="#e8202a" stroke-width="1.15"/>
<line x1="504.50" y1="515.30" x2="504.50" y2="653.50" stroke="#111" stroke-width="1.5" stroke-linecap="butt"/>
<line x1="504.50" y1="661.90" x2="504.50" y2="675.40" stroke="#111" stroke-width="1.5" stroke-linecap="butt"/>
<line x1="501.30" y1="653.50" x2="505.20" y2="653.50" stroke="#111" stroke-width="1.5" stroke-linecap="butt"/>
<line x1="501.30" y1="661.90" x2="505.20" y2="661.90" stroke="#111" stroke-width="1.5" stroke-linecap="butt"/>
<line x1="504.50" y1="529.20" x2="509.70" y2="529.20" stroke="#111" stroke-width="1.4" stroke-linecap="butt"/>
<text x="498.60" y="533.86" font-size="9.6" text-anchor="end" font-weight="normal" font-style="normal" fill="#222">1.2</text>
<line x1="504.50" y1="572.00" x2="509.70" y2="572.00" stroke="#111" stroke-width="1.4" stroke-linecap="butt"/>
<text x="498.60" y="576.66" font-size="9.6" text-anchor="end" font-weight="normal" font-style="normal" fill="#222">1.0</text>
<line x1="504.50" y1="614.80" x2="509.70" y2="614.80" stroke="#111" stroke-width="1.4" stroke-linecap="butt"/>
<text x="498.60" y="619.46" font-size="9.6" text-anchor="end" font-weight="normal" font-style="normal" fill="#222">0.8</text>
<text x="499.20" y="675.66" font-size="9.6" text-anchor="end" font-weight="normal" font-style="normal" fill="#222">0</text>
<rect x="504.50" y="675.40" width="148.60" height="27.80" fill="none" stroke="#111" stroke-width="1.3" />
<line x1="504.50" y1="690.80" x2="653.10" y2="690.80" stroke="#111" stroke-width="1.3" stroke-linecap="butt"/>
<line x1="534.60" y1="675.40" x2="534.60" y2="690.80" stroke="#111" stroke-width="1.3" stroke-linecap="butt"/>
<line x1="564.10" y1="675.40" x2="564.10" y2="690.80" stroke="#111" stroke-width="1.3" stroke-linecap="butt"/>
<line x1="594.40" y1="675.40" x2="594.40" y2="690.80" stroke="#111" stroke-width="1.3" stroke-linecap="butt"/>
<line x1="623.60" y1="675.40" x2="623.60" y2="690.80" stroke="#111" stroke-width="1.3" stroke-linecap="butt"/>
<line x1="514.45" y1="683.10" x2="524.75" y2="683.10" stroke="#222" stroke-width="1.9" stroke-linecap="butt"/>
<line x1="544.25" y1="683.10" x2="554.55" y2="683.10" stroke="#222" stroke-width="1.9" stroke-linecap="butt"/>
<line x1="549.40" y1="677.95" x2="549.40" y2="688.25" stroke="#222" stroke-width="1.9" stroke-linecap="butt"/>
<text x="578.80" y="685.62" font-size="7" text-anchor="middle" font-weight="normal" font-style="normal" fill="#222">CTL</text>
<text x="609.00" y="685.62" font-size="7" text-anchor="middle" font-weight="normal" font-style="normal" fill="#222">STK11</text>
<text x="638.40" y="685.62" font-size="7" text-anchor="middle" font-weight="normal" font-style="normal" fill="#222">STK11</text>
<text x="578.80" y="700.84" font-size="9" text-anchor="middle" font-weight="normal" font-style="normal" fill="#222">H1437</text>
<line x1="521.30" y1="516.90" x2="550.10" y2="516.90" stroke="#111" stroke-width="1.1" stroke-linecap="butt"/>
<text x="535.70" y="515.11" font-size="7.8" text-anchor="middle" font-weight="normal" font-style="normal" fill="#222">&lt;0.0001</text>
<line x1="550.90" y1="525.60" x2="639.00" y2="525.60" stroke="#111" stroke-width="1.1" stroke-linecap="butt"/>
<text x="594.95" y="523.81" font-size="7.8" text-anchor="middle" font-weight="normal" font-style="normal" fill="#222">0.0148</text>
<line x1="550.90" y1="539.70" x2="609.50" y2="539.70" stroke="#111" stroke-width="1.1" stroke-linecap="butt"/>
<text x="580.20" y="537.91" font-size="7.8" text-anchor="middle" font-weight="normal" font-style="normal" fill="#222">0.0006</text>
<line x1="550.90" y1="558.00" x2="579.90" y2="558.00" stroke="#111" stroke-width="1.1" stroke-linecap="butt"/>
<text x="565.40" y="556.21" font-size="7.8" text-anchor="middle" font-weight="normal" font-style="normal" fill="#222">n.s.</text>
<text x="480.20" y="607.31" font-size="9.2" text-anchor="middle" font-weight="normal" font-style="normal" fill="#222" transform="rotate(-90 480.20 604.00)">Relative Tumor-free Lean Mass</text>
</svg></body></html>
